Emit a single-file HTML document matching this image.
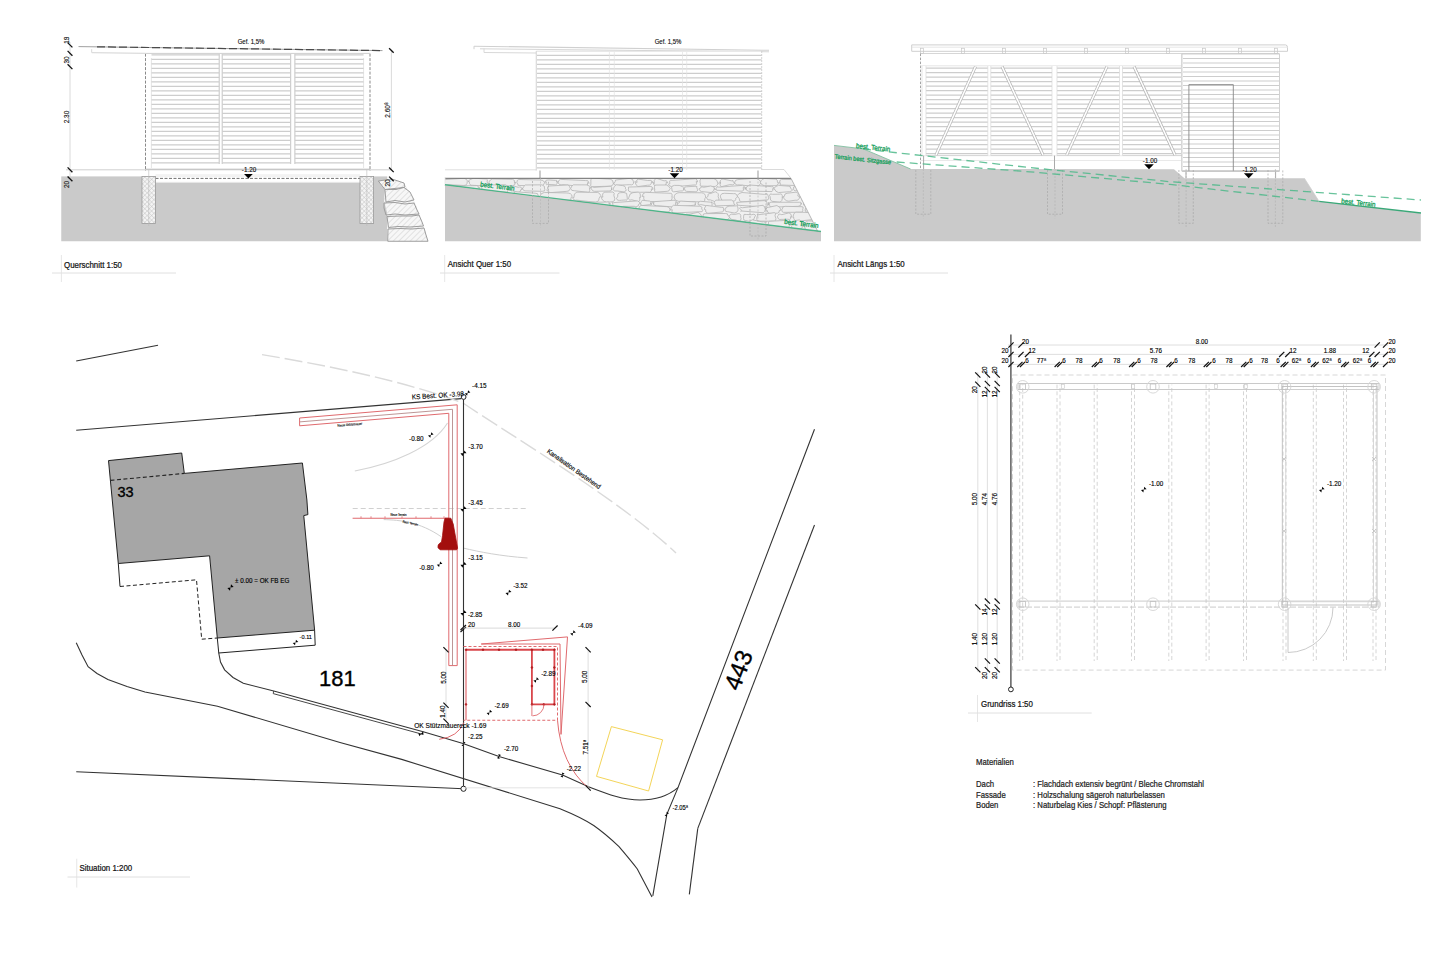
<!DOCTYPE html>
<html><head><meta charset="utf-8"><title>Plan</title>
<style>
html,body{margin:0;padding:0;background:#fff;}
body{width:1440px;height:960px;overflow:hidden;font-family:"Liberation Sans",sans-serif;}
svg{display:block;}
text{font-family:"Liberation Sans",sans-serif;}
</style></head><body>
<svg width="1440" height="960" viewBox="0 0 1440 960">
<defs>
<pattern id="hatch" patternUnits="userSpaceOnUse" width="4" height="4" patternTransform="rotate(45)"><line x1="0" y1="0" x2="0" y2="4" stroke="#d2d2d2" stroke-width="1.2"/></pattern>
<pattern id="xhatch" patternUnits="userSpaceOnUse" width="3.2" height="3.2" patternTransform="rotate(45)"><rect width="3.2" height="3.2" fill="#f4f4f4"/><line x1="0" y1="0" x2="0" y2="3.2" stroke="#c4c4c4" stroke-width="0.9"/><line x1="0" y1="0" x2="3.2" y2="0" stroke="#c4c4c4" stroke-width="0.9"/></pattern>
</defs>
<rect width="1440" height="960" fill="#fff"/>
<rect x="61.25" y="176.4" width="326" height="64.85" fill="#cacaca" stroke="none" stroke-width="1"/>
<rect x="155.5" y="176.4" width="204.5" height="6.6" fill="#fff" stroke="none" stroke-width="1"/>
<line x1="142" y1="178.4" x2="373.6" y2="178.4" stroke="#707070" stroke-width="1" stroke-dasharray="3 1.5"/>
<line x1="155.5" y1="175" x2="360" y2="175" stroke="#e2e2e2" stroke-width="0.8"/>
<line x1="155.5" y1="182.4" x2="360" y2="182.4" stroke="#bbb" stroke-width="0.8" stroke-dasharray="1 1"/>
<rect x="142" y="176.4" width="13.5" height="47" fill="url(#xhatch)" stroke="#9a9a9a" stroke-width="0.8"/>
<line x1="148.75" y1="169.8" x2="148.75" y2="226" stroke="#bbb" stroke-width="0.6"/>
<rect x="360" y="176.4" width="13.6" height="47" fill="url(#xhatch)" stroke="#9a9a9a" stroke-width="0.8"/>
<line x1="366.8" y1="169.8" x2="366.8" y2="226" stroke="#bbb" stroke-width="0.6"/>
<polygon points="378.3,181 392,179 404,183 414,200 419,213 423.8,225.7 428,241.25 387.7,241.25 388,216 384,201 384.9,189.5" stroke="none" stroke-width="0" fill="#f7f7f7"/>
<polygon points="378.3,181 392,179 404,183 414,200 419,213 423.8,225.7 428,241.25 387.7,241.25 388,216 384,201 384.9,189.5" stroke="none" stroke-width="0" fill="url(#hatch)"/>
<polyline points="378.3,181 392,179 404,183 405,187 396,189.5 385,189.5 378.3,181" stroke="#9d9d9d" stroke-width="1.0" fill="none"/>
<polyline points="384.9,189.5 404,187.5 410,192 414,200 405,202 395,200.5 386,202 384.9,189.5" stroke="#9d9d9d" stroke-width="1.0" fill="none"/>
<polyline points="384,203 395,202.5 405,204 414,203 417,210 419,214 405,215 395,214 386,215 384,208 384,203" stroke="#9d9d9d" stroke-width="1.0" fill="none"/>
<polyline points="387,216.5 400,216 412,216 419,215 422,222 423.5,226 410,227 398,226.5 388.5,227.5 387,216.5" stroke="#9d9d9d" stroke-width="1.0" fill="none"/>
<polyline points="388,229 400,228.5 412,229 424,228 426,235 428,241.25 387.7,241.25 388,229" stroke="#9d9d9d" stroke-width="1.0" fill="none"/>
<line x1="66" y1="169.8" x2="391" y2="169.8" stroke="#c4c4c4" stroke-width="0.8"/>
<line x1="145.5" y1="53.6" x2="145.5" y2="171" stroke="#8a8a8a" stroke-width="1" stroke-dasharray="3 1.5"/>
<line x1="370" y1="53.6" x2="370" y2="171" stroke="#8a8a8a" stroke-width="1" stroke-dasharray="3 1.5"/>
<line x1="151.4" y1="58" x2="151.4" y2="168" stroke="#ddd" stroke-width="0.8"/>
<line x1="363.6" y1="58" x2="363.6" y2="168" stroke="#ddd" stroke-width="0.8"/>
<line x1="145.5" y1="53.4" x2="370" y2="53.4" stroke="#cfcfcf" stroke-width="1"/>
<line x1="145.5" y1="169.2" x2="370" y2="169.2" stroke="#bdbdbd" stroke-width="1"/>
<line x1="219.2" y1="54" x2="219.2" y2="164" stroke="#bdbdbd" stroke-width="0.9"/>
<line x1="222.2" y1="54" x2="222.2" y2="164" stroke="#bdbdbd" stroke-width="0.9"/>
<line x1="290.7" y1="54" x2="290.7" y2="164" stroke="#bdbdbd" stroke-width="0.9"/>
<line x1="294.9" y1="54" x2="294.9" y2="164" stroke="#bdbdbd" stroke-width="0.9"/>
<line x1="151.5" y1="54.8" x2="219.2" y2="54.8" stroke="#cdcdcd" stroke-width="1.2"/>
<line x1="222.2" y1="54.8" x2="290.7" y2="54.8" stroke="#cdcdcd" stroke-width="1.2"/>
<line x1="294.9" y1="54.8" x2="363.6" y2="54.8" stroke="#cdcdcd" stroke-width="1.2"/>
<line x1="151.5" y1="59.3" x2="219.2" y2="59.3" stroke="#cdcdcd" stroke-width="1.2"/>
<line x1="222.2" y1="59.3" x2="290.7" y2="59.3" stroke="#cdcdcd" stroke-width="1.2"/>
<line x1="294.9" y1="59.3" x2="363.6" y2="59.3" stroke="#cdcdcd" stroke-width="1.2"/>
<line x1="151.5" y1="63.8" x2="219.2" y2="63.8" stroke="#cdcdcd" stroke-width="1.2"/>
<line x1="222.2" y1="63.8" x2="290.7" y2="63.8" stroke="#cdcdcd" stroke-width="1.2"/>
<line x1="294.9" y1="63.8" x2="363.6" y2="63.8" stroke="#cdcdcd" stroke-width="1.2"/>
<line x1="151.5" y1="68.3" x2="219.2" y2="68.3" stroke="#cdcdcd" stroke-width="1.2"/>
<line x1="222.2" y1="68.3" x2="290.7" y2="68.3" stroke="#cdcdcd" stroke-width="1.2"/>
<line x1="294.9" y1="68.3" x2="363.6" y2="68.3" stroke="#cdcdcd" stroke-width="1.2"/>
<line x1="151.5" y1="72.8" x2="219.2" y2="72.8" stroke="#cdcdcd" stroke-width="1.2"/>
<line x1="222.2" y1="72.8" x2="290.7" y2="72.8" stroke="#cdcdcd" stroke-width="1.2"/>
<line x1="294.9" y1="72.8" x2="363.6" y2="72.8" stroke="#cdcdcd" stroke-width="1.2"/>
<line x1="151.5" y1="77.3" x2="219.2" y2="77.3" stroke="#cdcdcd" stroke-width="1.2"/>
<line x1="222.2" y1="77.3" x2="290.7" y2="77.3" stroke="#cdcdcd" stroke-width="1.2"/>
<line x1="294.9" y1="77.3" x2="363.6" y2="77.3" stroke="#cdcdcd" stroke-width="1.2"/>
<line x1="151.5" y1="81.8" x2="219.2" y2="81.8" stroke="#cdcdcd" stroke-width="1.2"/>
<line x1="222.2" y1="81.8" x2="290.7" y2="81.8" stroke="#cdcdcd" stroke-width="1.2"/>
<line x1="294.9" y1="81.8" x2="363.6" y2="81.8" stroke="#cdcdcd" stroke-width="1.2"/>
<line x1="151.5" y1="86.3" x2="219.2" y2="86.3" stroke="#cdcdcd" stroke-width="1.2"/>
<line x1="222.2" y1="86.3" x2="290.7" y2="86.3" stroke="#cdcdcd" stroke-width="1.2"/>
<line x1="294.9" y1="86.3" x2="363.6" y2="86.3" stroke="#cdcdcd" stroke-width="1.2"/>
<line x1="151.5" y1="90.8" x2="219.2" y2="90.8" stroke="#cdcdcd" stroke-width="1.2"/>
<line x1="222.2" y1="90.8" x2="290.7" y2="90.8" stroke="#cdcdcd" stroke-width="1.2"/>
<line x1="294.9" y1="90.8" x2="363.6" y2="90.8" stroke="#cdcdcd" stroke-width="1.2"/>
<line x1="151.5" y1="95.3" x2="219.2" y2="95.3" stroke="#cdcdcd" stroke-width="1.2"/>
<line x1="222.2" y1="95.3" x2="290.7" y2="95.3" stroke="#cdcdcd" stroke-width="1.2"/>
<line x1="294.9" y1="95.3" x2="363.6" y2="95.3" stroke="#cdcdcd" stroke-width="1.2"/>
<line x1="151.5" y1="99.8" x2="219.2" y2="99.8" stroke="#cdcdcd" stroke-width="1.2"/>
<line x1="222.2" y1="99.8" x2="290.7" y2="99.8" stroke="#cdcdcd" stroke-width="1.2"/>
<line x1="294.9" y1="99.8" x2="363.6" y2="99.8" stroke="#cdcdcd" stroke-width="1.2"/>
<line x1="151.5" y1="104.3" x2="219.2" y2="104.3" stroke="#cdcdcd" stroke-width="1.2"/>
<line x1="222.2" y1="104.3" x2="290.7" y2="104.3" stroke="#cdcdcd" stroke-width="1.2"/>
<line x1="294.9" y1="104.3" x2="363.6" y2="104.3" stroke="#cdcdcd" stroke-width="1.2"/>
<line x1="151.5" y1="108.8" x2="219.2" y2="108.8" stroke="#cdcdcd" stroke-width="1.2"/>
<line x1="222.2" y1="108.8" x2="290.7" y2="108.8" stroke="#cdcdcd" stroke-width="1.2"/>
<line x1="294.9" y1="108.8" x2="363.6" y2="108.8" stroke="#cdcdcd" stroke-width="1.2"/>
<line x1="151.5" y1="113.3" x2="219.2" y2="113.3" stroke="#cdcdcd" stroke-width="1.2"/>
<line x1="222.2" y1="113.3" x2="290.7" y2="113.3" stroke="#cdcdcd" stroke-width="1.2"/>
<line x1="294.9" y1="113.3" x2="363.6" y2="113.3" stroke="#cdcdcd" stroke-width="1.2"/>
<line x1="151.5" y1="117.8" x2="219.2" y2="117.8" stroke="#cdcdcd" stroke-width="1.2"/>
<line x1="222.2" y1="117.8" x2="290.7" y2="117.8" stroke="#cdcdcd" stroke-width="1.2"/>
<line x1="294.9" y1="117.8" x2="363.6" y2="117.8" stroke="#cdcdcd" stroke-width="1.2"/>
<line x1="151.5" y1="122.3" x2="219.2" y2="122.3" stroke="#cdcdcd" stroke-width="1.2"/>
<line x1="222.2" y1="122.3" x2="290.7" y2="122.3" stroke="#cdcdcd" stroke-width="1.2"/>
<line x1="294.9" y1="122.3" x2="363.6" y2="122.3" stroke="#cdcdcd" stroke-width="1.2"/>
<line x1="151.5" y1="126.8" x2="219.2" y2="126.8" stroke="#cdcdcd" stroke-width="1.2"/>
<line x1="222.2" y1="126.8" x2="290.7" y2="126.8" stroke="#cdcdcd" stroke-width="1.2"/>
<line x1="294.9" y1="126.8" x2="363.6" y2="126.8" stroke="#cdcdcd" stroke-width="1.2"/>
<line x1="151.5" y1="131.3" x2="219.2" y2="131.3" stroke="#cdcdcd" stroke-width="1.2"/>
<line x1="222.2" y1="131.3" x2="290.7" y2="131.3" stroke="#cdcdcd" stroke-width="1.2"/>
<line x1="294.9" y1="131.3" x2="363.6" y2="131.3" stroke="#cdcdcd" stroke-width="1.2"/>
<line x1="151.5" y1="135.8" x2="219.2" y2="135.8" stroke="#cdcdcd" stroke-width="1.2"/>
<line x1="222.2" y1="135.8" x2="290.7" y2="135.8" stroke="#cdcdcd" stroke-width="1.2"/>
<line x1="294.9" y1="135.8" x2="363.6" y2="135.8" stroke="#cdcdcd" stroke-width="1.2"/>
<line x1="151.5" y1="140.3" x2="219.2" y2="140.3" stroke="#cdcdcd" stroke-width="1.2"/>
<line x1="222.2" y1="140.3" x2="290.7" y2="140.3" stroke="#cdcdcd" stroke-width="1.2"/>
<line x1="294.9" y1="140.3" x2="363.6" y2="140.3" stroke="#cdcdcd" stroke-width="1.2"/>
<line x1="151.5" y1="144.8" x2="219.2" y2="144.8" stroke="#cdcdcd" stroke-width="1.2"/>
<line x1="222.2" y1="144.8" x2="290.7" y2="144.8" stroke="#cdcdcd" stroke-width="1.2"/>
<line x1="294.9" y1="144.8" x2="363.6" y2="144.8" stroke="#cdcdcd" stroke-width="1.2"/>
<line x1="151.5" y1="149.3" x2="219.2" y2="149.3" stroke="#cdcdcd" stroke-width="1.2"/>
<line x1="222.2" y1="149.3" x2="290.7" y2="149.3" stroke="#cdcdcd" stroke-width="1.2"/>
<line x1="294.9" y1="149.3" x2="363.6" y2="149.3" stroke="#cdcdcd" stroke-width="1.2"/>
<line x1="151.5" y1="153.8" x2="219.2" y2="153.8" stroke="#cdcdcd" stroke-width="1.2"/>
<line x1="222.2" y1="153.8" x2="290.7" y2="153.8" stroke="#cdcdcd" stroke-width="1.2"/>
<line x1="294.9" y1="153.8" x2="363.6" y2="153.8" stroke="#cdcdcd" stroke-width="1.2"/>
<line x1="151.5" y1="158.3" x2="219.2" y2="158.3" stroke="#cdcdcd" stroke-width="1.2"/>
<line x1="222.2" y1="158.3" x2="290.7" y2="158.3" stroke="#cdcdcd" stroke-width="1.2"/>
<line x1="294.9" y1="158.3" x2="363.6" y2="158.3" stroke="#cdcdcd" stroke-width="1.2"/>
<line x1="151.5" y1="162.8" x2="219.2" y2="162.8" stroke="#cdcdcd" stroke-width="1.2"/>
<line x1="222.2" y1="162.8" x2="290.7" y2="162.8" stroke="#cdcdcd" stroke-width="1.2"/>
<line x1="294.9" y1="162.8" x2="363.6" y2="162.8" stroke="#cdcdcd" stroke-width="1.2"/>
<line x1="91.7" y1="49.2" x2="91.7" y2="52.6" stroke="#d8d8d8" stroke-width="1"/>
<line x1="91.7" y1="52.6" x2="145.5" y2="53.4" stroke="#dcdcdc" stroke-width="1.2"/>
<line x1="78.5" y1="46.6" x2="382.5" y2="50.6" stroke="#a0a0a0" stroke-width="1.0"/>
<line x1="97" y1="46.82" x2="382.5" y2="50.6" stroke="#4a4a4a" stroke-width="1.2" stroke-dasharray="8 3"/>
<text x="251" y="43.8" font-size="6.6" fill="#111" text-anchor="middle" textLength="26.68" lengthAdjust="spacingAndGlyphs" stroke="#111" stroke-width="0.14">Gef. 1,5%</text>
<line x1="70" y1="42" x2="70" y2="180" stroke="#d0d0d0" stroke-width="0.8"/>
<line x1="67.6" y1="42.6" x2="72.4" y2="47.4" stroke="#111" stroke-width="1.3"/>
<line x1="67.6" y1="50.9" x2="72.4" y2="55.7" stroke="#111" stroke-width="1.3"/>
<line x1="67.6" y1="64.3" x2="72.4" y2="69.1" stroke="#111" stroke-width="1.3"/>
<line x1="67.6" y1="167.4" x2="72.4" y2="172.2" stroke="#111" stroke-width="1.3"/>
<line x1="67.6" y1="176.5" x2="72.4" y2="181.3" stroke="#111" stroke-width="1.3"/>
<text x="67" y="40.2" font-size="7.15" fill="#111" text-anchor="middle" transform="rotate(-90 67 40.2)" textLength="7.23" lengthAdjust="spacingAndGlyphs" stroke="#111" stroke-width="0.14" dominant-baseline="central">19</text>
<text x="67" y="60" font-size="7.15" fill="#111" text-anchor="middle" transform="rotate(-90 67 60)" textLength="7.23" lengthAdjust="spacingAndGlyphs" stroke="#111" stroke-width="0.14" dominant-baseline="central">30</text>
<text x="67" y="117" font-size="7.15" fill="#111" text-anchor="middle" transform="rotate(-90 67 117)" textLength="12.65" lengthAdjust="spacingAndGlyphs" stroke="#111" stroke-width="0.14" dominant-baseline="central">2.30</text>
<text x="67" y="184.5" font-size="7.15" fill="#111" text-anchor="middle" transform="rotate(-90 67 184.5)" textLength="7.23" lengthAdjust="spacingAndGlyphs" stroke="#111" stroke-width="0.14" dominant-baseline="central">20</text>
<line x1="391.4" y1="50.5" x2="391.4" y2="170" stroke="#d0d0d0" stroke-width="0.8"/>
<line x1="389.1" y1="48.2" x2="393.7" y2="52.8" stroke="#111" stroke-width="1.3"/>
<line x1="389.1" y1="167.5" x2="393.7" y2="172.1" stroke="#111" stroke-width="1.3"/>
<line x1="389.1" y1="176.6" x2="393.7" y2="181.2" stroke="#111" stroke-width="1.3"/>
<text x="387.5" y="110" font-size="7.15" fill="#111" text-anchor="middle" transform="rotate(-90 387.5 110)" textLength="15.39" lengthAdjust="spacingAndGlyphs" stroke="#111" stroke-width="0.14" dominant-baseline="central">2.60⁸</text>
<text x="387.5" y="183" font-size="7.15" fill="#111" text-anchor="middle" transform="rotate(-90 387.5 183)" textLength="7.23" lengthAdjust="spacingAndGlyphs" stroke="#111" stroke-width="0.14" dominant-baseline="central">20</text>
<polygon points="244.08,173.9 252.72,173.9 248.4,178.4" fill="#000"/>
<text x="249" y="172" font-size="6.93" fill="#111" text-anchor="middle" textLength="14.36" lengthAdjust="spacingAndGlyphs" stroke="#111" stroke-width="0.14">-1.20</text>
<text x="64" y="267.5" font-size="9.48" fill="#111" text-anchor="start" textLength="57.96" lengthAdjust="spacingAndGlyphs" stroke="#111" stroke-width="0.24">Querschnitt 1:50</text>
<line x1="52" y1="273" x2="176" y2="273" stroke="#d8d8d8" stroke-width="0.8"/>
<line x1="61.4" y1="255" x2="61.4" y2="282" stroke="#e0e0e0" stroke-width="0.8"/>
<line x1="474" y1="46.2" x2="769" y2="50.3" stroke="#d0d0d0" stroke-width="1.1"/>
<line x1="480" y1="48.8" x2="769" y2="51.8" stroke="#d6d6d6" stroke-width="1.0"/>
<line x1="474" y1="46.2" x2="474" y2="49.2" stroke="#d0d0d0" stroke-width="1"/>
<path d="M484,48.6 L484,52.5 L536,53" stroke="#d8d8d8" stroke-width="1" fill="none"/>
<rect x="536.25" y="51" width="225.45" height="119.6" fill="#fff" stroke="none" stroke-width="1"/>
<line x1="536.25" y1="51" x2="536.25" y2="170.6" stroke="#c8c8c8" stroke-width="0.8"/>
<line x1="536.25" y1="51.2" x2="761.7" y2="51.2" stroke="#d8d8d8" stroke-width="0.8"/>
<line x1="537" y1="55.3" x2="761.7" y2="55.3" stroke="#cdcdcd" stroke-width="1.2"/>
<line x1="537" y1="59.8" x2="761.7" y2="59.8" stroke="#cdcdcd" stroke-width="1.2"/>
<line x1="537" y1="64.3" x2="761.7" y2="64.3" stroke="#cdcdcd" stroke-width="1.2"/>
<line x1="537" y1="68.8" x2="761.7" y2="68.8" stroke="#cdcdcd" stroke-width="1.2"/>
<line x1="537" y1="73.3" x2="761.7" y2="73.3" stroke="#cdcdcd" stroke-width="1.2"/>
<line x1="537" y1="77.8" x2="761.7" y2="77.8" stroke="#cdcdcd" stroke-width="1.2"/>
<line x1="537" y1="82.3" x2="761.7" y2="82.3" stroke="#cdcdcd" stroke-width="1.2"/>
<line x1="537" y1="86.8" x2="761.7" y2="86.8" stroke="#cdcdcd" stroke-width="1.2"/>
<line x1="537" y1="91.3" x2="761.7" y2="91.3" stroke="#cdcdcd" stroke-width="1.2"/>
<line x1="537" y1="95.8" x2="761.7" y2="95.8" stroke="#cdcdcd" stroke-width="1.2"/>
<line x1="537" y1="100.3" x2="761.7" y2="100.3" stroke="#cdcdcd" stroke-width="1.2"/>
<line x1="537" y1="104.8" x2="761.7" y2="104.8" stroke="#cdcdcd" stroke-width="1.2"/>
<line x1="537" y1="109.3" x2="761.7" y2="109.3" stroke="#cdcdcd" stroke-width="1.2"/>
<line x1="537" y1="113.8" x2="761.7" y2="113.8" stroke="#cdcdcd" stroke-width="1.2"/>
<line x1="537" y1="118.3" x2="761.7" y2="118.3" stroke="#cdcdcd" stroke-width="1.2"/>
<line x1="537" y1="122.8" x2="761.7" y2="122.8" stroke="#cdcdcd" stroke-width="1.2"/>
<line x1="537" y1="127.3" x2="761.7" y2="127.3" stroke="#cdcdcd" stroke-width="1.2"/>
<line x1="537" y1="131.8" x2="761.7" y2="131.8" stroke="#cdcdcd" stroke-width="1.2"/>
<line x1="537" y1="136.3" x2="761.7" y2="136.3" stroke="#cdcdcd" stroke-width="1.2"/>
<line x1="537" y1="140.8" x2="761.7" y2="140.8" stroke="#cdcdcd" stroke-width="1.2"/>
<line x1="537" y1="145.3" x2="761.7" y2="145.3" stroke="#cdcdcd" stroke-width="1.2"/>
<line x1="537" y1="149.8" x2="761.7" y2="149.8" stroke="#cdcdcd" stroke-width="1.2"/>
<line x1="537" y1="154.3" x2="761.7" y2="154.3" stroke="#cdcdcd" stroke-width="1.2"/>
<line x1="537" y1="158.8" x2="761.7" y2="158.8" stroke="#cdcdcd" stroke-width="1.2"/>
<line x1="537" y1="163.3" x2="761.7" y2="163.3" stroke="#cdcdcd" stroke-width="1.2"/>
<line x1="537" y1="167.8" x2="761.7" y2="167.8" stroke="#cdcdcd" stroke-width="1.2"/>
<line x1="609.4" y1="52" x2="609.4" y2="170" stroke="#e2e2e2" stroke-width="0.7"/>
<line x1="614.3" y1="52" x2="614.3" y2="170" stroke="#e2e2e2" stroke-width="0.7"/>
<line x1="682.5" y1="52" x2="682.5" y2="170" stroke="#e2e2e2" stroke-width="0.7"/>
<line x1="686.7" y1="52" x2="686.7" y2="170" stroke="#e2e2e2" stroke-width="0.7"/>
<line x1="761.7" y1="51" x2="761.7" y2="171" stroke="#c8c8c8" stroke-width="0.8" stroke-dasharray="2 1"/>
<line x1="445" y1="169.8" x2="536" y2="169.8" stroke="#d6d6d6" stroke-width="0.8"/>
<line x1="540" y1="170.6" x2="540" y2="178.3" stroke="#aaa" stroke-width="1.2"/>
<line x1="758" y1="170.6" x2="758" y2="178.3" stroke="#aaa" stroke-width="1.2"/>
<polygon points="445,185.5 821,232.2 821,241.2 445,241.2" stroke="none" stroke-width="0" fill="#cacaca"/>
<clipPath id="wallclip"><polygon points="445,178.3 791,178.3 818,231.9 445,185.5"/></clipPath>
<polygon points="445,178.3 791,178.3 818,231.9 445,185.5" stroke="none" stroke-width="0" fill="#f1f1f1"/>
<g clip-path="url(#wallclip)" stroke="#b4b4b4" stroke-width="0.8" fill="#eeeeee" stroke-linejoin="round">
<path d="M444.47,179.6 L464.24,178.26 Q467.4,179.5 467.42,180.99 L467.22,181.67 Q467.4,185.66 463.47,185.45 L446.58,184.6 Q442.88,185.66 442.11,183.23 L444.14,182.5 Q442.88,179.5 444.47,179.6 Z"/>
<path d="M473.32,178.23 L486.35,178.91 Q488.13,179.5 487.13,181.21 L487.59,183.76 Q488.13,185.66 484.45,185.89 L472.38,185.3 Q469.2,185.66 469.34,181.65 L467.97,181.46 Q469.2,179.5 473.32,178.23 Z"/>
<path d="M492.51,178.98 L512.55,179.37 Q515.1,179.5 514.54,183.11 L515.66,182.16 Q515.1,185.66 512.52,185.73 L493.77,186.3 Q489.93,185.66 489.34,184.22 L488.86,182.06 Q489.93,179.5 492.51,178.98 Z"/>
<path d="M518.71,179.47 L539.68,179.97 Q543.76,179.5 544.5,182.49 L544.81,182.35 Q543.76,185.66 541.52,185.92 L519.91,185.53 Q516.9,185.66 517.85,184.12 L516.83,182.74 Q516.9,179.5 518.71,179.47 Z"/>
<path d="M548.91,179.91 L555.69,180.4 Q557.09,179.5 556.49,181.97 L557.56,181.54 Q557.09,185.66 554.2,184.73 L547.27,184.42 Q545.56,185.66 546.31,181.83 L544.85,181.98 Q545.56,179.5 548.91,179.91 Z"/>
<path d="M560.5,179.36 L585.62,180.57 Q588.26,179.5 589.16,183.3 L587.64,182.64 Q588.26,185.66 585.08,186.73 L562.96,184.68 Q558.89,185.66 557.98,182.12 L558.14,182.24 Q558.89,179.5 560.5,179.36 Z"/>
<path d="M592.18,178.11 L610.21,179.13 Q613.22,179.5 613.41,183.55 L613.76,182.92 Q613.22,185.66 610.77,186.15 L591.6,186.78 Q590.06,185.66 590.85,183.92 L590.9,181.98 Q590.06,179.5 592.18,178.11 Z"/>
<path d="M616.7,179.88 L629.99,178.29 Q634,179.5 633.19,181.34 L633.55,181.62 Q634,185.66 629.82,184.68 L616.69,185.28 Q615.02,185.66 613.69,183.92 L615.34,181.3 Q615.02,179.5 616.7,179.88 Z"/>
<path d="M638.16,179.12 L647.71,180.48 Q651.55,179.5 652.93,182.19 L651.51,181.71 Q651.55,185.66 647.65,185.22 L637.93,186.58 Q635.8,185.66 634.85,181.54 L637.06,182.36 Q635.8,179.5 638.16,179.12 Z"/>
<path d="M656.26,178.18 L664.07,180.84 Q666.78,179.5 667.79,182.83 L666.11,182.5 Q666.78,185.66 663.06,186.42 L656.23,186.44 Q653.35,185.66 652.87,182.1 L654.22,183.64 Q653.35,179.5 656.26,178.18 Z"/>
<path d="M672.22,180.39 L695.42,178.73 Q697.53,179.5 697.58,181.88 L696.21,181.55 Q697.53,185.66 694.13,184.98 L671.9,186.94 Q668.58,185.66 668.43,184.1 L669.94,183.56 Q668.58,179.5 672.22,180.39 Z"/>
<path d="M701.34,178.74 L713.92,178.67 Q717.56,179.5 717.9,183.41 L718.51,182.81 Q717.56,185.66 715.2,186.5 L700.96,186.11 Q699.33,185.66 700.48,183.66 L700.03,182.22 Q699.33,179.5 701.34,178.74 Z"/>
<path d="M722.95,179.03 L731.54,180.82 Q733.48,179.5 733.19,182.01 L734.73,183.5 Q733.48,185.66 729.77,184.61 L721.16,186.79 Q719.36,185.66 720.21,181.88 L720.27,183.63 Q719.36,179.5 722.95,179.03 Z"/>
<path d="M737.65,179.64 L756.12,178.14 Q759.94,179.5 761.26,182.7 L760.02,184.09 Q759.94,185.66 756.97,186.7 L738.98,184.85 Q735.28,185.66 734.59,182.29 L734.56,182.53 Q735.28,179.5 737.65,179.64 Z"/>
<path d="M764.3,178.47 L776.01,179.09 Q777.65,179.5 777.53,182.52 L778.78,182.65 Q777.65,185.66 776.03,185.66 L764.62,185.72 Q761.74,185.66 760.4,182.7 L760.86,180.9 Q761.74,179.5 764.3,178.47 Z"/>
<path d="M781.32,179.43 L805.08,179.66 Q807.23,179.5 806.74,182.34 L807.39,183.67 Q807.23,185.66 803.34,185.83 L781.53,185.03 Q779.45,185.66 780.21,182.89 L779.62,183.01 Q779.45,179.5 781.32,179.43 Z"/>
<path d="M811.66,179.82 L836.54,179.53 Q839.31,179.5 839.84,182.15 L839.4,182.81 Q839.31,185.66 837.76,186.22 L812.87,186.9 Q809.03,185.66 808.36,183.04 L810.27,183.24 Q809.03,179.5 811.66,179.82 Z"/>
<path d="M438.8,184.89 L446.86,186.88 Q448.85,186.08 449.97,187.58 L449.46,189.31 Q448.85,191.33 445.39,192.4 L440.83,190.55 Q437.06,191.33 438.32,188.58 L437.02,189.92 Q437.06,186.08 438.8,184.89 Z"/>
<path d="M452.17,185.89 L476.74,185.63 Q479.17,186.08 478.32,188.04 L479.79,187.52 Q479.17,191.33 476.85,191.16 L451.77,190.86 Q450.65,191.33 451,188.9 L449.43,189.91 Q450.65,186.08 452.17,185.89 Z"/>
<path d="M484.75,184.98 L505.39,184.79 Q508.51,186.08 509.29,187.91 L507.47,188.65 Q508.51,191.33 507.2,192.22 L482.76,190.35 Q480.97,191.33 482.14,189.06 L481.53,187.4 Q480.97,186.08 484.75,184.98 Z"/>
<path d="M513.3,185.87 L518.11,187.31 Q521.78,186.08 522.15,189.4 L520.61,189.86 Q521.78,191.33 518.1,192.35 L512.65,190.88 Q510.31,191.33 510.46,190.06 L509.66,187.51 Q510.31,186.08 513.3,185.87 Z"/>
<path d="M525.31,184.99 L541.95,184.83 Q545.37,186.08 544.53,188.02 L544.82,189.59 Q545.37,191.33 542.31,191.33 L525.14,190.9 Q523.58,191.33 522.23,188.17 L522.22,189.2 Q523.58,186.08 525.31,184.99 Z"/>
<path d="M548.77,186.01 L568.24,184.98 Q569.49,186.08 570.39,188.36 L569.48,189.8 Q569.49,191.33 566.73,191.35 L550.16,192.68 Q547.17,191.33 546.73,189.8 L547.75,188.93 Q547.17,186.08 548.77,186.01 Z"/>
<path d="M573.33,184.84 L586.89,184.88 Q590.4,186.08 591.07,187.87 L589.45,187.7 Q590.4,191.33 588.88,192.37 L574.24,190.72 Q571.29,191.33 570.57,188.29 L571.18,187.59 Q571.29,186.08 573.33,184.84 Z"/>
<path d="M594,187.38 L611.06,186.22 Q612.2,186.08 611.49,189.85 L611.67,188.46 Q612.2,191.33 608.34,191 L594.59,191.34 Q592.2,191.33 591.36,188.88 L590.81,187.89 Q592.2,186.08 594,187.38 Z"/>
<path d="M616.19,184.8 L622.37,185.54 Q626.18,186.08 625.43,188.79 L626.26,189.57 Q626.18,191.33 624.15,191.94 L617.53,191.02 Q614,191.33 613.52,190.22 L613.02,189.18 Q614,186.08 616.19,184.8 Z"/>
<path d="M629.17,187.02 L650.96,186.44 Q652.33,186.08 652.98,189.42 L651.32,188.93 Q652.33,191.33 649.87,192.27 L631.3,192.25 Q627.98,191.33 628.21,189.96 L628.49,189.09 Q627.98,186.08 629.17,187.02 Z"/>
<path d="M655.28,185.06 L666.53,184.98 Q669.39,186.08 670.33,188.71 L669.75,189.22 Q669.39,191.33 667.43,191.3 L655.2,192.16 Q654.13,191.33 654.82,188.87 L654.23,189 Q654.13,186.08 655.28,185.06 Z"/>
<path d="M674.32,185.39 L679.18,185.43 Q682.84,186.08 683.48,187.73 L683.51,190.2 Q682.84,191.33 680.36,191 L673.6,191.85 Q671.19,191.33 671.94,189.19 L671.59,187.37 Q671.19,186.08 674.32,185.39 Z"/>
<path d="M686.42,186.77 L695.07,186.27 Q698.08,186.08 696.72,187.32 L697.44,189.35 Q698.08,191.33 696.16,191.82 L686.52,191.38 Q684.64,191.33 684.54,188.77 L683.57,189.65 Q684.64,186.08 686.42,186.77 Z"/>
<path d="M703.69,187.31 L710.65,185.97 Q714.47,186.08 715.36,189.86 L714.33,188.22 Q714.47,191.33 711.19,192.58 L701.54,191.56 Q699.88,191.33 698.88,188.93 L701.15,187.52 Q699.88,186.08 703.69,187.31 Z"/>
<path d="M718.76,187.17 L742.62,185.33 Q744.51,186.08 745.63,188.51 L743.18,187.47 Q744.51,191.33 742.02,191.19 L718.18,190.33 Q716.27,191.33 715.83,188.35 L717.22,187.16 Q716.27,186.08 718.76,187.17 Z"/>
<path d="M749.73,185.02 L771.76,186.68 Q773.03,186.08 774.15,187.96 L772.67,188.56 Q773.03,191.33 771.96,191.58 L748.39,191.13 Q746.31,191.33 745.68,187.6 L745.2,189.49 Q746.31,186.08 749.73,185.02 Z"/>
<path d="M778.51,185.38 L788.19,186.11 Q791.31,186.08 790.44,188.2 L792.59,189.94 Q791.31,191.33 789.72,191.7 L778.45,192.57 Q774.83,191.33 774.97,189.48 L773.57,189.2 Q774.83,186.08 778.51,185.38 Z"/>
<path d="M796.29,186.49 L810.17,184.82 Q813.23,186.08 814.43,187.51 L813.15,188.43 Q813.23,191.33 810.2,192 L796.91,190.66 Q793.11,191.33 793.55,188.31 L793.27,188.25 Q793.11,186.08 796.29,186.49 Z"/>
<path d="M816.55,185.27 L827.58,186.08 Q828.91,186.08 828.13,189.69 L830.3,188.72 Q828.91,191.33 825.44,190.47 L816.35,190.89 Q815.03,191.33 813.89,188.13 L814.35,188.75 Q815.03,186.08 816.55,185.27 Z"/>
<path d="M441.17,192.63 L453.04,191.75 Q456.95,192.97 456.33,197.74 L455.9,197.6 Q456.95,201.05 453.86,202.06 L440.3,200.4 Q437.64,201.05 436.94,197.31 L437.49,197.7 Q437.64,192.97 441.17,192.63 Z"/>
<path d="M463.25,191.63 L482.86,193.56 Q487.62,192.97 488.73,196.35 L487.86,196.19 Q487.62,201.05 483.86,202.24 L463.12,202.04 Q458.75,201.05 460.07,196.89 L457.66,195.46 Q458.75,192.97 463.25,191.63 Z"/>
<path d="M493.39,194.21 L508.28,193.38 Q511.11,192.97 511.85,196.31 L511.26,196.3 Q511.11,201.05 508.45,200.3 L494.05,201.45 Q489.42,201.05 488.87,196.55 L488.73,196.81 Q489.42,192.97 493.39,194.21 Z"/>
<path d="M515.28,191.77 L535.09,193.2 Q538.48,192.97 538.17,195.65 L538.76,196.22 Q538.48,201.05 534.47,200.94 L517.65,201.45 Q512.91,201.05 513.99,197.52 L512.17,195.72 Q512.91,192.97 515.28,191.77 Z"/>
<path d="M544.31,192.43 L566.82,192.97 Q571.62,192.97 572.1,196.2 L570.94,198.06 Q571.62,201.05 569.35,200.28 L542.43,200.59 Q540.28,201.05 540.06,198.1 L539.44,197.26 Q540.28,192.97 544.31,192.43 Z"/>
<path d="M576.88,192.15 L597.74,192.45 Q599.88,192.97 600.77,195.67 L599.1,198.32 Q599.88,201.05 595.85,202.31 L576.86,200.17 Q573.42,201.05 572.64,197.36 L573.88,197.68 Q573.42,192.97 576.88,192.15 Z"/>
<path d="M604.83,192.17 L612.97,191.97 Q615.1,192.97 613.84,195.2 L614.8,198.71 Q615.1,201.05 612.71,201.7 L606.52,202.25 Q601.68,201.05 601.2,196.71 L602.9,197.12 Q601.68,192.97 604.83,192.17 Z"/>
<path d="M620.81,192.63 L623.99,192.5 Q627.8,192.97 626.87,195.04 L627.18,197.17 Q627.8,201.05 625.62,199.99 L621.65,200.23 Q616.9,201.05 616.5,198.49 L617.8,196.24 Q616.9,192.97 620.81,192.63 Z"/>
<path d="M632.98,192.62 L638.6,192.11 Q640.88,192.97 640.5,197.54 L639.57,197.34 Q640.88,201.05 638.3,201.79 L631.77,199.74 Q629.6,201.05 628.37,198.77 L628.92,197.12 Q629.6,192.97 632.98,192.62 Z"/>
<path d="M645.69,192.33 L670.48,193.3 Q672.65,192.97 671.98,197.03 L672.14,196.96 Q672.65,201.05 667.8,201.76 L647.3,201.42 Q642.68,201.05 643.92,196.26 L641.94,196.36 Q642.68,192.97 645.69,192.33 Z"/>
<path d="M679.18,192.65 L701.55,192.78 Q705.7,192.97 705.68,197.63 L704.81,198.44 Q705.7,201.05 702.91,201.95 L678.67,201.35 Q674.45,201.05 673.97,197.08 L674.06,197.22 Q674.45,192.97 679.18,192.65 Z"/>
<path d="M710.11,193.68 L715.27,191.75 Q719.44,192.97 718.13,196.58 L718.95,198.93 Q719.44,201.05 717.06,202.41 L710.3,199.88 Q707.5,201.05 706.37,197.59 L708.09,196.28 Q707.5,192.97 710.11,193.68 Z"/>
<path d="M724.46,193.31 L733.62,193.67 Q736.59,192.97 737.56,196.89 L735.53,198.54 Q736.59,201.05 732.56,201.23 L724.34,201.71 Q721.24,201.05 720.4,196.88 L720.52,195.46 Q721.24,192.97 724.46,193.31 Z"/>
<path d="M742.06,192.49 L764.29,194.35 Q768.04,192.97 768.06,195.68 L768.91,198.02 Q768.04,201.05 765.96,199.93 L741.77,201.94 Q738.39,201.05 739.34,198.75 L737.1,195.85 Q738.39,192.97 742.06,192.49 Z"/>
<path d="M772.43,194.3 L779.44,194.18 Q782.66,192.97 782.31,197.45 L782.52,196.92 Q782.66,201.05 779.99,202.29 L772.19,201.32 Q769.84,201.05 770.18,196.8 L769.47,195.42 Q769.84,192.97 772.43,194.3 Z"/>
<path d="M787.23,193.25 L796.12,192.14 Q799.15,192.97 797.78,195.94 L799.65,196.71 Q799.15,201.05 795.17,200.22 L788.75,201.18 Q784.46,201.05 783.24,196.47 L784.17,196.57 Q784.46,192.97 787.23,193.25 Z"/>
<path d="M803.26,192.03 L822.31,192.72 Q825.21,192.97 824.61,195.89 L826.48,197.06 Q825.21,201.05 821.94,200.65 L804.17,202.07 Q800.95,201.05 802.34,197.21 L800.1,197.07 Q800.95,192.97 803.26,192.03 Z"/>
<path d="M431.05,201.01 L446.18,201.16 Q447.39,201.27 446.45,202.2 L447.53,204.11 Q447.39,206 446.25,204.85 L430.49,205.64 Q427.87,206 427.88,202.72 L427.26,203.62 Q427.87,201.27 431.05,201.01 Z"/>
<path d="M450.38,201.25 L478.32,202.58 Q479.75,201.27 478.9,202.51 L480.99,205.05 Q479.75,206 477.42,204.75 L452.67,205.69 Q449.19,206 450.32,204.05 L450.1,202.61 Q449.19,201.27 450.38,201.25 Z"/>
<path d="M483.06,201.01 L507.72,202.2 Q509.04,201.27 508.15,202.77 L508.76,203.77 Q509.04,206 506.43,204.94 L483.13,206.63 Q481.55,206 482.66,202.43 L481.73,204.28 Q481.55,201.27 483.06,201.01 Z"/>
<path d="M514.07,200.2 L519.87,201.41 Q521.88,201.27 522.23,203.02 L521.65,203.95 Q521.88,206 519.39,206.44 L512.97,205.83 Q510.84,206 509.5,204.05 L510.81,202.82 Q510.84,201.27 514.07,200.2 Z"/>
<path d="M526.75,201.16 L547.49,201.2 Q550.68,201.27 549.58,202.52 L550.48,202.57 Q550.68,206 548.23,206.03 L524.68,206.38 Q523.68,206 522.51,204.37 L524.46,203.59 Q523.68,201.27 526.75,201.16 Z"/>
<path d="M554.77,200.93 L562.85,200.25 Q563.87,201.27 564.87,204.95 L564.52,204.6 Q563.87,206 560.73,207.35 L554.74,207.28 Q552.48,206 553.64,202.78 L553.28,204.76 Q552.48,201.27 554.77,200.93 Z"/>
<path d="M567.54,201.99 L574.07,202.38 Q577.31,201.27 576.68,204.44 L576.31,203.72 Q577.31,206 576.2,205.18 L567.29,206.02 Q565.67,206 565.16,202.42 L564.78,202.61 Q565.67,201.27 567.54,201.99 Z"/>
<path d="M581.9,202.38 L606.7,202.07 Q609.91,201.27 608.83,203.64 L610.29,203.32 Q609.91,206 608.67,206.15 L581.62,207.07 Q579.11,206 578,205.1 L579.47,203.26 Q579.11,201.27 581.9,202.38 Z"/>
<path d="M613.34,202.65 L637.39,200.88 Q639.46,201.27 640.2,203.4 L638.56,204.4 Q639.46,206 635.91,206.9 L613.31,206.39 Q611.71,206 613.07,203.96 L612.17,203.03 Q611.71,201.27 613.34,202.65 Z"/>
<path d="M642.24,200.29 L649.54,201.08 Q651.5,201.27 651.54,204.67 L650.47,202.95 Q651.5,206 649.65,204.66 L642.15,205.59 Q641.26,206 640.16,203.32 L640.49,203.79 Q641.26,201.27 642.24,200.29 Z"/>
<path d="M654.76,201.62 L674.11,200.25 Q676.46,201.27 677.68,202.84 L675.48,202.58 Q676.46,206 674.56,207.04 L656.37,205.73 Q653.3,206 652.64,202.35 L653.71,203.73 Q653.3,201.27 654.76,201.62 Z"/>
<path d="M680.95,201.12 L695.11,201.93 Q696.17,201.27 695.46,204.69 L694.89,203.8 Q696.17,206 693.62,205.27 L679.31,206.78 Q678.26,206 676.9,203.86 L679.5,202.56 Q678.26,201.27 680.95,201.12 Z"/>
<path d="M700.55,201.29 L710.67,202.15 Q712.56,201.27 711.65,203.02 L712,202.45 Q712.56,206 711.36,206.79 L700.86,204.62 Q697.97,206 698.93,204.4 L697.87,204.23 Q697.97,201.27 700.55,201.29 Z"/>
<path d="M715.87,200.17 L731.48,199.98 Q734.51,201.27 734.05,204.26 L735.06,204.68 Q734.51,206 732.82,205.34 L716.79,205.82 Q714.36,206 715.17,203.78 L713.7,203.96 Q714.36,201.27 715.87,200.17 Z"/>
<path d="M737.8,202.34 L764.1,200.6 Q767.75,201.27 767.01,204.24 L768.99,204.4 Q767.75,206 764.98,207.06 L738.12,205.27 Q736.31,206 737.45,204.08 L736.85,204.02 Q736.31,201.27 737.8,202.34 Z"/>
<path d="M771.74,202.22 L799.55,202.27 Q801.28,201.27 801.11,204.19 L801.48,203.18 Q801.28,206 798.19,206.34 L770.65,207.15 Q769.55,206 768.55,202.39 L768.44,204.76 Q769.55,201.27 771.74,202.22 Z"/>
<path d="M804.36,199.95 L817.3,201.81 Q820.87,201.27 821.25,204.11 L821.53,202.5 Q820.87,206 818.84,205.62 L806.26,206.89 Q803.08,206 804.18,202.5 L804.11,204.72 Q803.08,201.27 804.36,199.95 Z"/>
<path d="M823.85,200.45 L850.27,199.97 Q853.65,201.27 854.62,204.43 L854.02,204.63 Q853.65,206 851.73,205.4 L823.83,204.87 Q822.67,206 823.39,202.89 L822.16,203.34 Q822.67,201.27 823.85,200.45 Z"/>
<path d="M442.56,206.02 L464.81,206.53 Q466.19,206.52 467.18,209.53 L464.88,209.45 Q466.19,212.38 463.34,213.14 L442.5,212.95 Q440.25,212.38 440.35,208.9 L441.26,208.06 Q440.25,206.52 442.56,206.02 Z"/>
<path d="M469.75,205.13 L492.72,207.26 Q496.23,206.52 497.57,207.81 L496.21,209.67 Q496.23,212.38 494.38,211.49 L470.66,211.95 Q467.99,212.38 468.92,209.03 L469.24,208.6 Q467.99,206.52 469.75,205.13 Z"/>
<path d="M501.27,206.52 L509.18,206.9 Q512.95,206.52 511.78,210.01 L513.51,210.5 Q512.95,212.38 510.63,211.97 L500.43,212.08 Q498.03,212.38 499.12,208.54 L499.12,207.87 Q498.03,206.52 501.27,206.52 Z"/>
<path d="M516.77,207.65 L526.81,206.18 Q529.49,206.52 530.56,208.46 L529.38,209.79 Q529.49,212.38 527.52,213.09 L517.84,211.95 Q514.75,212.38 514.27,208.73 L515.72,209.66 Q514.75,206.52 516.77,207.65 Z"/>
<path d="M533.04,206.35 L555.9,206.74 Q557.81,206.52 556.77,209.09 L558.89,208.96 Q557.81,212.38 554.27,211.82 L534.54,213.34 Q531.29,212.38 530.32,208.73 L530.58,208.72 Q531.29,206.52 533.04,206.35 Z"/>
<path d="M561.34,206.04 L577.75,207.85 Q581.3,206.52 581.94,208.09 L582.6,208.58 Q581.3,212.38 578.3,213.73 L563.12,213.03 Q559.61,212.38 559.43,208.85 L560,208.1 Q559.61,206.52 561.34,206.04 Z"/>
<path d="M585.47,205.22 L594.88,207.34 Q597.84,206.52 598.38,209.2 L598.21,209.59 Q597.84,212.38 594.16,212.67 L585.51,213.05 Q583.1,212.38 584.24,209.5 L583.31,209.9 Q583.1,206.52 585.47,205.22 Z"/>
<path d="M601.56,207.14 L617.49,207.29 Q619.11,206.52 619.67,210.19 L619.61,210.09 Q619.11,212.38 616.3,211.85 L602.68,211.25 Q599.64,212.38 599.42,210.49 L600.24,209.56 Q599.64,206.52 601.56,207.14 Z"/>
<path d="M623.37,206.4 L634.27,206.27 Q636.61,206.52 637.1,210.41 L635.72,210.13 Q636.61,212.38 634.71,212.07 L623.56,213.71 Q620.91,212.38 619.61,209.82 L619.96,209.99 Q620.91,206.52 623.37,206.4 Z"/>
<path d="M641.14,205.4 L666.83,206.64 Q669.3,206.52 669.91,209.24 L669.69,210.62 Q669.3,212.38 666.68,212.13 L642.34,211.57 Q638.41,212.38 638.93,209.4 L639.14,208.14 Q638.41,206.52 641.14,205.4 Z"/>
<path d="M673.38,205.28 L699.65,206.24 Q702.96,206.52 701.6,208.97 L702.74,210.25 Q702.96,212.38 699.87,211.72 L673.01,213.05 Q671.1,212.38 672.33,209.77 L670.32,210.05 Q671.1,206.52 673.38,205.28 Z"/>
<path d="M706.63,205.48 L721.68,207.39 Q723.58,206.52 723.96,209.11 L723.76,208.93 Q723.58,212.38 722.2,211.97 L707.83,213.27 Q704.76,212.38 705.65,209.61 L704.18,209.34 Q704.76,206.52 706.63,205.48 Z"/>
<path d="M729,206.12 L736.64,205.87 Q738.34,206.52 737.99,208.51 L738.13,208.82 Q738.34,212.38 734.27,213 L727.45,211.66 Q725.38,212.38 724.83,209.64 L725.18,209.59 Q725.38,206.52 729,206.12 Z"/>
<path d="M742.43,207.72 L763.15,205.28 Q764.84,206.52 765.76,210.34 L765.64,208.69 Q764.84,212.38 763.09,212.75 L741.46,211.01 Q740.14,212.38 741.4,210.13 L739.44,208.09 Q740.14,206.52 742.43,207.72 Z"/>
<path d="M768.57,207.3 L776.87,205.55 Q779.98,206.52 781.11,210.02 L779.05,210.79 Q779.98,212.38 777.61,213.16 L769.79,213.48 Q766.64,212.38 767.45,210.65 L765.79,209.74 Q766.64,206.52 768.57,207.3 Z"/>
<path d="M785.14,206.35 L802.05,206.68 Q803.66,206.52 803,208.46 L802.65,209.68 Q803.66,212.38 799.74,212.28 L783.46,212.35 Q781.78,212.38 781.78,209.81 L782.8,207.82 Q781.78,206.52 785.14,206.35 Z"/>
<path d="M808.05,206.7 L831.94,207.48 Q834.16,206.52 833.81,208.97 L835.45,208.51 Q834.16,212.38 831.86,212.76 L806.82,212.68 Q805.46,212.38 805.97,210.91 L804.98,210.55 Q805.46,206.52 808.05,206.7 Z"/>
<path d="M431.6,213.78 L435.4,214.44 Q438.89,213.43 438.52,216.39 L438.97,218.03 Q438.89,220.31 435.05,220.13 L430.77,220.46 Q427.95,220.31 428.86,216.69 L428.87,216.2 Q427.95,213.43 431.6,213.78 Z"/>
<path d="M443.09,213.45 L460.27,213.86 Q461.98,213.43 462.79,215.99 L461.46,216.71 Q461.98,220.31 459.18,220.69 L444.53,219.02 Q440.69,220.31 441.32,218.35 L440.82,215.21 Q440.69,213.43 443.09,213.45 Z"/>
<path d="M465.43,212.56 L478.73,213.73 Q480.59,213.43 481.03,217.28 L481.73,217.58 Q480.59,220.31 477.87,220.66 L467.37,220.58 Q463.78,220.31 464.28,216.47 L464.24,216.35 Q463.78,213.43 465.43,212.56 Z"/>
<path d="M484.31,212.54 L505.03,214.2 Q509.36,213.43 510.52,216.9 L509,218.17 Q509.36,220.31 507.13,220.48 L484.75,219.75 Q482.39,220.31 482.17,216.76 L482.19,216.86 Q482.39,213.43 484.31,212.54 Z"/>
<path d="M512.96,213.62 L537.58,212.36 Q541.91,213.43 542.78,216.68 L543.08,217.12 Q541.91,220.31 537.51,219.99 L514.46,221.53 Q511.16,220.31 512.51,217.2 L510.92,215.35 Q511.16,213.43 512.96,213.62 Z"/>
<path d="M545.94,212.45 L563.69,212.04 Q568.09,213.43 568.6,215.41 L569.39,216.12 Q568.09,220.31 566.09,219.27 L545.4,220.92 Q543.71,220.31 542.99,217.92 L542.83,215.21 Q543.71,213.43 545.94,212.45 Z"/>
<path d="M573.53,214.42 L594.72,212.26 Q597.12,213.43 597.48,217.05 L597.01,218.48 Q597.12,220.31 593.39,221.61 L573.54,218.94 Q569.89,220.31 568.53,217.69 L570.78,215.29 Q569.89,213.43 573.53,214.42 Z"/>
<path d="M602.6,212.49 L613.93,213.39 Q615.96,213.43 614.73,216.1 L616.17,217.1 Q615.96,220.31 613.42,219.31 L602.79,219.93 Q598.92,220.31 599.32,217.63 L598.69,216.15 Q598.92,213.43 602.6,212.49 Z"/>
<path d="M622.04,214.22 L642.41,212.85 Q645.26,213.43 644.03,217.79 L645.83,218.19 Q645.26,220.31 641.75,220.61 L622.14,221.24 Q617.76,220.31 618.04,216.73 L617.56,217.55 Q617.76,213.43 622.04,214.22 Z"/>
<path d="M650.61,213.71 L663.62,214.29 Q665.54,213.43 664.94,215.07 L664.88,217.05 Q665.54,220.31 662.75,221.19 L651.18,219.03 Q647.06,220.31 647.99,218.14 L648.09,216.67 Q647.06,213.43 650.61,213.71 Z"/>
<path d="M671.37,214.29 L681.05,214.59 Q683.57,213.43 683.14,215.3 L683.72,218.1 Q683.57,220.31 679.69,221.01 L671.59,219.56 Q667.34,220.31 667.64,217.77 L667.25,215.64 Q667.34,213.43 671.37,214.29 Z"/>
<path d="M689.11,214.24 L698.02,212.27 Q701.17,213.43 702.03,217.23 L700.43,217.49 Q701.17,220.31 699.25,221.39 L688.47,220.24 Q685.37,220.31 685.62,216.4 L684.51,215.57 Q685.37,213.43 689.11,214.24 Z"/>
<path d="M705.63,213.61 L725.29,213.48 Q728.6,213.43 727.61,215.19 L729.99,216.92 Q728.6,220.31 724.46,220.68 L706.82,219.35 Q702.97,220.31 703.25,216.84 L703.03,215.12 Q702.97,213.43 705.63,213.61 Z"/>
<path d="M734.81,214.45 L738.26,213.62 Q741.34,213.43 740.67,217.25 L741.13,218.52 Q741.34,220.31 739.05,221.2 L734.73,219.62 Q730.4,220.31 729.1,216.43 L729.5,215.3 Q730.4,213.43 734.81,214.45 Z"/>
<path d="M746.33,214.47 L751.3,214.68 Q754.46,213.43 755.61,215.25 L754.73,216.98 Q754.46,220.31 750.36,221.59 L745.49,220.49 Q743.14,220.31 743.53,218.55 L743.61,216.17 Q743.14,213.43 746.33,214.47 Z"/>
<path d="M758.34,214.73 L774.66,212.65 Q776.32,213.43 775.03,215.78 L775.91,218.4 Q776.32,220.31 774.42,221.25 L758.03,221.11 Q756.26,220.31 756.84,217.68 L757.62,215.22 Q756.26,213.43 758.34,214.73 Z"/>
<path d="M781.87,214.66 L788.96,212.86 Q791.51,213.43 791.76,217.19 L790.4,216.78 Q791.51,220.31 787.79,219.26 L781.11,219.38 Q778.12,220.31 777.39,216.27 L778.62,215.1 Q778.12,213.43 781.87,214.66 Z"/>
<path d="M795.49,212.13 L817.45,212.65 Q819.29,213.43 820.5,217.49 L820.37,216.26 Q819.29,220.31 816.1,219.18 L797.55,221.27 Q793.31,220.31 793.67,217.14 L792.86,217.37 Q793.31,213.43 795.49,212.13 Z"/>
<path d="M824.48,212.43 L837.97,212.19 Q841.79,213.43 842.39,216.62 L840.8,218.31 Q841.79,220.31 838.1,220.06 L823.16,219.67 Q821.09,220.31 822.04,216.81 L820.16,216.44 Q821.09,213.43 824.48,212.43 Z"/>
<path d="M446.07,222.03 L472.12,220.12 Q475.35,220.92 475.28,224.02 L474.67,225.16 Q475.35,229.69 471.27,231.06 L448.71,230.88 Q443.62,229.69 442.49,225.4 L444.73,223.38 Q443.62,220.92 446.07,222.03 Z"/>
<path d="M480.27,222.26 L498.28,221.78 Q503.33,220.92 502.88,223.61 L501.93,226.92 Q503.33,229.69 499.71,228.81 L480.66,230.84 Q477.15,229.69 476.36,226.19 L476.13,223.73 Q477.15,220.92 480.27,222.26 Z"/>
<path d="M509.42,220.08 L527.4,219.77 Q532.28,220.92 532.58,224.61 L531.65,225.17 Q532.28,229.69 528.9,230.27 L509.7,229.92 Q505.13,229.69 504.3,224.78 L505.78,224.37 Q505.13,220.92 509.42,220.08 Z"/>
<path d="M536.53,221.79 L556,221.88 Q560.15,220.92 561.18,224.6 L558.8,227.14 Q560.15,229.69 556.39,230.73 L537.12,228.81 Q534.08,229.69 535.01,225.62 L533.14,224.26 Q534.08,220.92 536.53,221.79 Z"/>
<path d="M564.27,220.98 L581.39,220.97 Q585.24,220.92 584.18,225.22 L586.13,227.01 Q585.24,229.69 581.04,230.28 L565.32,230.39 Q561.95,229.69 560.73,227.04 L563.23,224.61 Q561.95,220.92 564.27,220.98 Z"/>
<path d="M590.83,221.03 L603.5,222.23 Q608.54,220.92 607.76,223.73 L607.42,225.29 Q608.54,229.69 605.73,228.37 L589.61,230.25 Q587.04,229.69 586.19,224.64 L587.32,224.84 Q587.04,220.92 590.83,221.03 Z"/>
<path d="M614.6,219.81 L629.38,221.53 Q632.04,220.92 630.77,223.57 L632.02,225.99 Q632.04,229.69 627.73,228.63 L613.77,228.67 Q610.34,229.69 610.59,227 L609.35,224.83 Q610.34,220.92 614.6,219.81 Z"/>
<path d="M636.6,221.84 L657.99,220.61 Q660.46,220.92 660.24,225.57 L660.54,225.7 Q660.46,229.69 658,230.46 L637.09,228.96 Q633.84,229.69 633.38,225.81 L635.19,225.47 Q633.84,220.92 636.6,221.84 Z"/>
<path d="M666.84,221.9 L687.6,220.97 Q692.55,220.92 693.83,225.84 L691.84,225.77 Q692.55,229.69 689.22,229.31 L666.05,228.48 Q662.26,229.69 662.08,226 L660.92,223.61 Q662.26,220.92 666.84,221.9 Z"/>
<path d="M698.82,222.15 L722.55,221.79 Q725.88,220.92 726.95,225.7 L724.57,226.39 Q725.88,229.69 721.53,230.19 L697.41,229.81 Q694.35,229.69 695.53,226.33 L693.65,224.68 Q694.35,220.92 698.82,222.15 Z"/>
<path d="M732.64,220.33 L743.18,221.34 Q747.42,220.92 746.36,224.89 L748.7,226.03 Q747.42,229.69 743.07,229.6 L731.47,228.7 Q727.68,229.69 726.63,224.96 L727.1,224.36 Q727.68,220.92 732.64,220.33 Z"/>
<path d="M752.2,219.77 L762.19,221.88 Q765.76,220.92 766.07,224.82 L766.18,225.15 Q765.76,229.69 762.65,229.58 L753.05,230 Q749.22,229.69 749.13,225.46 L748.5,223.84 Q749.22,220.92 752.2,219.77 Z"/>
<path d="M770.93,221.16 L783.97,220.51 Q789.04,220.92 790.05,223.89 L789.2,225.97 Q789.04,229.69 784.74,231.05 L770.69,230.45 Q767.56,229.69 766.61,224.78 L768.6,224.45 Q767.56,220.92 770.93,221.16 Z"/>
<path d="M794.22,220.76 L799.36,219.83 Q802.4,220.92 801.63,225.91 L803.07,225.02 Q802.4,229.69 798.25,229.28 L795.02,230.01 Q790.84,229.69 791.82,226.89 L790.89,225.29 Q790.84,220.92 794.22,220.76 Z"/>
<path d="M808.63,220.86 L827.85,221.51 Q830.75,220.92 831.91,223.58 L831.79,224.6 Q830.75,229.69 827.8,229.93 L807.89,230.98 Q804.2,229.69 804.4,225.76 L805,225.67 Q804.2,220.92 808.63,220.86 Z"/>
<path d="M440.35,230.08 L453.95,230.81 Q457.13,230.66 456.8,233.03 L457.93,235.17 Q457.13,237.07 454.25,236.91 L438.84,236.52 Q436.85,237.07 435.86,234.41 L437.08,232.38 Q436.85,230.66 440.35,230.08 Z"/>
<path d="M461.31,231.62 L487.45,231.94 Q489.37,230.66 488.54,233.33 L490.52,232.82 Q489.37,237.07 485.23,237.25 L461.79,238.24 Q458.93,237.07 459.69,234.3 L460.32,233.58 Q458.93,230.66 461.31,231.62 Z"/>
<path d="M494.56,230.35 L509.48,230.92 Q512.75,230.66 512.33,234.79 L513.25,234.27 Q512.75,237.07 508.76,236.72 L493.77,237.24 Q491.17,237.07 491.38,235.26 L492.47,233.5 Q491.17,230.66 494.56,230.35 Z"/>
<path d="M517.77,232.05 L531.12,230.74 Q534.44,230.66 535.32,232.61 L533.93,235.53 Q534.44,237.07 532.48,237.1 L516.33,238.17 Q514.55,237.07 515.08,235.09 L515.92,234.62 Q514.55,230.66 517.77,232.05 Z"/>
<path d="M538.15,230.07 L552.85,230.67 Q555.69,230.66 554.82,232.64 L556.06,234.48 Q555.69,237.07 552.41,238.45 L539.49,235.79 Q536.24,237.07 535.99,235 L535.69,234.07 Q536.24,230.66 538.15,230.07 Z"/>
<path d="M559.82,231.62 L565.15,231.13 Q567.78,230.66 566.93,233.53 L567.93,233.54 Q567.78,237.07 565.32,237.16 L561.76,237.28 Q557.49,237.07 557.25,233.13 L556.53,234.26 Q557.49,230.66 559.82,231.62 Z"/>
<path d="M571.33,229.74 L579.32,231.56 Q582.13,230.66 582.44,234.39 L580.9,232.83 Q582.13,237.07 580.01,236.57 L573.06,236.66 Q569.58,237.07 568.66,233.54 L568.46,234.66 Q569.58,230.66 571.33,229.74 Z"/>
<path d="M586.38,230.52 L603.74,229.41 Q606.94,230.66 608.03,233.76 L608.22,234.03 Q606.94,237.07 604.4,236.37 L585.52,238.27 Q583.93,237.07 584.92,233.68 L585.04,234.42 Q583.93,230.66 586.38,230.52 Z"/>
<path d="M611.9,231.95 L622.73,231.92 Q625.62,230.66 624.9,233.22 L626.23,233.41 Q625.62,237.07 622.21,238.12 L611.57,237.89 Q608.74,237.07 608.02,233.28 L608.34,232.65 Q608.74,230.66 611.9,231.95 Z"/>
<path d="M629.7,230.83 L655.04,230.75 Q658.99,230.66 658.67,233.26 L657.77,233.14 Q658.99,237.07 657.03,236.65 L629.58,236.2 Q627.42,237.07 626.81,233.46 L626.12,233.99 Q627.42,230.66 629.7,230.83 Z"/>
<path d="M662.7,231.24 L674.49,230.01 Q678.5,230.66 679.44,232.49 L678.34,235.14 Q678.5,237.07 676.48,236.11 L663.25,237.69 Q660.79,237.07 660.45,235.48 L659.97,234.79 Q660.79,230.66 662.7,231.24 Z"/>
<path d="M682.41,230.53 L697.7,231.24 Q701.61,230.66 700.94,234.65 L701.85,233.83 Q701.61,237.07 698.03,237.37 L682.37,238.11 Q680.3,237.07 679.25,234.23 L680.42,232.89 Q680.3,230.66 682.41,230.53 Z"/>
<path d="M705.96,231.1 L727.9,230.13 Q730.59,230.66 730.28,232.37 L729.68,235.18 Q730.59,237.07 727.21,237.52 L705.19,237.24 Q703.41,237.07 703.02,234.2 L702.84,232.32 Q703.41,230.66 705.96,231.1 Z"/>
<path d="M734.49,229.61 L747.17,230.05 Q749.44,230.66 749.16,234.68 L750.21,235.27 Q749.44,237.07 747.57,236.04 L734.63,235.75 Q732.39,237.07 732.89,234.65 L731.97,233.29 Q732.39,230.66 734.49,229.61 Z"/>
<path d="M754.67,229.95 L774.03,230.25 Q775.93,230.66 776.3,232.64 L774.86,235.35 Q775.93,237.07 773.72,237.66 L752.82,235.78 Q751.24,237.07 750.29,233.35 L750.68,233.2 Q751.24,230.66 754.67,229.95 Z"/>
<path d="M780.08,231.05 L785.03,231.61 Q788.8,230.66 788.99,234.14 L788.11,234.01 Q788.8,237.07 786.44,236.64 L779.21,238 Q777.73,237.07 778.51,233.6 L776.46,234.52 Q777.73,230.66 780.08,231.05 Z"/>
<path d="M792.2,229.94 L810.2,231.48 Q814.16,230.66 813.35,234.69 L814.86,233.04 Q814.16,237.07 811.83,236.77 L794.16,237.99 Q790.6,237.07 789.99,233.05 L791.85,233.32 Q790.6,230.66 792.2,229.94 Z"/>
<path d="M819.37,231.33 L844.68,231.02 Q846.63,230.66 846.49,232.28 L847.18,233.99 Q846.63,237.07 843.79,238.27 L817.79,237.8 Q815.96,237.07 814.68,234.76 L816.82,232.86 Q815.96,230.66 819.37,231.33 Z"/>
</g>
<line x1="791" y1="178.3" x2="818" y2="231.9" stroke="#b0b0b0" stroke-width="0.9"/>
<line x1="445" y1="178.3" x2="791" y2="178.3" stroke="#6a6a6a" stroke-width="1"/>
<line x1="445" y1="177.3" x2="445" y2="186" stroke="#e4e4e4" stroke-width="0.8"/>
<line x1="445" y1="185.5" x2="821" y2="232.2" stroke="#e7b7c0" stroke-width="0.7" opacity="0.8"/>
<line x1="445" y1="184.8" x2="821" y2="231.5" stroke="#4db489" stroke-width="1.4"/>
<line x1="762" y1="169.5" x2="784" y2="169.5" stroke="#d0d0d0" stroke-width="0.8"/>
<line x1="784" y1="169.5" x2="791" y2="178.3" stroke="#d0d0d0" stroke-width="0.8"/>
<polyline points="532.5,181 532.5,223.4 548.5,223.4 548.5,181" stroke="#a8a8a8" stroke-width="0.7" fill="none" stroke-dasharray="2 1.5"/>
<line x1="540.5" y1="178" x2="540.5" y2="227.4" stroke="#b5b5b5" stroke-width="0.6" stroke-dasharray="2 1.5"/>
<polyline points="750,181 750,236 766,236 766,181" stroke="#a8a8a8" stroke-width="0.7" fill="none" stroke-dasharray="2 1.5"/>
<line x1="758" y1="178" x2="758" y2="240" stroke="#b5b5b5" stroke-width="0.6" stroke-dasharray="2 1.5"/>
<text x="480" y="186.5" font-size="6.93" fill="#17a05c" text-anchor="start" transform="rotate(7.08 480 186.5)" textLength="34.55" lengthAdjust="spacingAndGlyphs" stroke="#17a05c" stroke-width="0.3">best. Terrain</text>
<text x="784" y="223.8" font-size="6.93" fill="#17a05c" text-anchor="start" transform="rotate(7.08 784 223.8)" textLength="34.55" lengthAdjust="spacingAndGlyphs" stroke="#17a05c" stroke-width="0.3">best. Terrain</text>
<text x="668" y="43.9" font-size="6.6" fill="#111" text-anchor="middle" textLength="26.68" lengthAdjust="spacingAndGlyphs" stroke="#111" stroke-width="0.14">Gef. 1,5%</text>
<polygon points="669.7,173.3 679.3,173.3 674.5,178.3" fill="#000"/>
<text x="675.5" y="172" font-size="6.93" fill="#111" text-anchor="middle" textLength="14.36" lengthAdjust="spacingAndGlyphs" stroke="#111" stroke-width="0.14">-1.20</text>
<text x="447.8" y="267.2" font-size="9.48" fill="#111" text-anchor="start" textLength="63.23" lengthAdjust="spacingAndGlyphs" stroke="#111" stroke-width="0.24">Ansicht Quer 1:50</text>
<line x1="440" y1="273" x2="559.5" y2="273" stroke="#d8d8d8" stroke-width="0.8"/>
<line x1="444.7" y1="255" x2="444.7" y2="282" stroke="#e0e0e0" stroke-width="0.8"/>
<polygon points="834,145.4 863.3,148.9 910.6,169 1174,169.2 1184.4,178.3 1304.4,178.3 1319,201.3 1420.8,213.3 1420.8,241.3 834,241.3" stroke="none" stroke-width="0" fill="#cacaca"/>
<path d="M911.7,44.9 L1285.5,44.9 Q1287.5,45 1287.5,47.5 L1287.5,51.3 L911.7,51.3 Z" stroke="#cfcfcf" stroke-width="1" fill="#fff"/>
<line x1="911.7" y1="47.2" x2="1287.5" y2="47.2" stroke="#e0e0e0" stroke-width="0.8"/>
<line x1="920.5" y1="53.6" x2="1279.4" y2="53.6" stroke="#d2d2d2" stroke-width="1"/>
<rect x="920.4" y="48.3" width="3.2" height="5" fill="none" stroke="#c8c8c8" stroke-width="0.7"/>
<rect x="961.4" y="48.3" width="3.2" height="5" fill="none" stroke="#c8c8c8" stroke-width="0.7"/>
<rect x="1002.4" y="48.3" width="3.2" height="5" fill="none" stroke="#c8c8c8" stroke-width="0.7"/>
<rect x="1043.4" y="48.3" width="3.2" height="5" fill="none" stroke="#c8c8c8" stroke-width="0.7"/>
<rect x="1084.4" y="48.3" width="3.2" height="5" fill="none" stroke="#c8c8c8" stroke-width="0.7"/>
<rect x="1125.4" y="48.3" width="3.2" height="5" fill="none" stroke="#c8c8c8" stroke-width="0.7"/>
<rect x="1166.4" y="48.3" width="3.2" height="5" fill="none" stroke="#c8c8c8" stroke-width="0.7"/>
<rect x="1202.4" y="48.3" width="3.2" height="5" fill="none" stroke="#c8c8c8" stroke-width="0.7"/>
<rect x="1238.4" y="48.3" width="3.2" height="5" fill="none" stroke="#c8c8c8" stroke-width="0.7"/>
<rect x="1274.4" y="48.3" width="3.2" height="5" fill="none" stroke="#c8c8c8" stroke-width="0.7"/>
<rect x="920.5" y="54" width="261.5" height="101.4" fill="#fff" stroke="none" stroke-width="1"/>
<line x1="920.5" y1="53.6" x2="920.5" y2="169" stroke="#9a9a9a" stroke-width="0.9" stroke-dasharray="2.5 1.5"/>
<line x1="1182" y1="54" x2="1182" y2="171" stroke="#bbb" stroke-width="0.8"/>
<line x1="920.5" y1="65.8" x2="1182" y2="65.8" stroke="#dedede" stroke-width="0.8"/>
<line x1="926" y1="68.2" x2="1181" y2="68.2" stroke="#cdcdcd" stroke-width="1.2"/>
<line x1="926" y1="72.7" x2="1181" y2="72.7" stroke="#cdcdcd" stroke-width="1.2"/>
<line x1="926" y1="77.2" x2="1181" y2="77.2" stroke="#cdcdcd" stroke-width="1.2"/>
<line x1="926" y1="81.7" x2="1181" y2="81.7" stroke="#cdcdcd" stroke-width="1.2"/>
<line x1="926" y1="86.2" x2="1181" y2="86.2" stroke="#cdcdcd" stroke-width="1.2"/>
<line x1="926" y1="90.7" x2="1181" y2="90.7" stroke="#cdcdcd" stroke-width="1.2"/>
<line x1="926" y1="95.2" x2="1181" y2="95.2" stroke="#cdcdcd" stroke-width="1.2"/>
<line x1="926" y1="99.7" x2="1181" y2="99.7" stroke="#cdcdcd" stroke-width="1.2"/>
<line x1="926" y1="104.2" x2="1181" y2="104.2" stroke="#cdcdcd" stroke-width="1.2"/>
<line x1="926" y1="108.7" x2="1181" y2="108.7" stroke="#cdcdcd" stroke-width="1.2"/>
<line x1="926" y1="113.2" x2="1181" y2="113.2" stroke="#cdcdcd" stroke-width="1.2"/>
<line x1="926" y1="117.7" x2="1181" y2="117.7" stroke="#cdcdcd" stroke-width="1.2"/>
<line x1="926" y1="122.2" x2="1181" y2="122.2" stroke="#cdcdcd" stroke-width="1.2"/>
<line x1="926" y1="126.7" x2="1181" y2="126.7" stroke="#cdcdcd" stroke-width="1.2"/>
<line x1="926" y1="131.2" x2="1181" y2="131.2" stroke="#cdcdcd" stroke-width="1.2"/>
<line x1="926" y1="135.7" x2="1181" y2="135.7" stroke="#cdcdcd" stroke-width="1.2"/>
<line x1="926" y1="140.2" x2="1181" y2="140.2" stroke="#cdcdcd" stroke-width="1.2"/>
<line x1="926" y1="144.7" x2="1181" y2="144.7" stroke="#cdcdcd" stroke-width="1.2"/>
<line x1="926" y1="149.2" x2="1181" y2="149.2" stroke="#cdcdcd" stroke-width="1.2"/>
<line x1="926" y1="153.7" x2="1181" y2="153.7" stroke="#cdcdcd" stroke-width="1.2"/>
<line x1="920.5" y1="155.6" x2="1182" y2="155.6" stroke="#cfcfcf" stroke-width="0.9"/>
<line x1="920.5" y1="160.5" x2="1182" y2="160.5" stroke="#e3e3e3" stroke-width="0.8"/>
<rect x="922" y="66" width="4" height="89.6" fill="#fff" stroke="none" stroke-width="1"/>
<line x1="922" y1="66" x2="922" y2="155.6" stroke="#d8d8d8" stroke-width="0.7"/>
<line x1="926" y1="66" x2="926" y2="155.6" stroke="#d8d8d8" stroke-width="0.7"/>
<rect x="987.8" y="66" width="3" height="89.6" fill="#fff" stroke="none" stroke-width="1"/>
<line x1="987.8" y1="66" x2="987.8" y2="155.6" stroke="#d8d8d8" stroke-width="0.7"/>
<line x1="990.8" y1="66" x2="990.8" y2="155.6" stroke="#d8d8d8" stroke-width="0.7"/>
<rect x="1052" y="66" width="5" height="89.6" fill="#fff" stroke="none" stroke-width="1"/>
<line x1="1052" y1="66" x2="1052" y2="155.6" stroke="#d8d8d8" stroke-width="0.7"/>
<line x1="1057" y1="66" x2="1057" y2="155.6" stroke="#d8d8d8" stroke-width="0.7"/>
<rect x="1119.5" y="66" width="3" height="89.6" fill="#fff" stroke="none" stroke-width="1"/>
<line x1="1119.5" y1="66" x2="1119.5" y2="155.6" stroke="#d8d8d8" stroke-width="0.7"/>
<line x1="1122.5" y1="66" x2="1122.5" y2="155.6" stroke="#d8d8d8" stroke-width="0.7"/>
<line x1="975.5" y1="66.5" x2="936" y2="155" stroke="#b5b5b5" stroke-width="3.0"/>
<line x1="975.5" y1="66.5" x2="936" y2="155" stroke="#fff" stroke-width="1.6"/>
<line x1="1002" y1="66.5" x2="1043" y2="155" stroke="#b5b5b5" stroke-width="3.0"/>
<line x1="1002" y1="66.5" x2="1043" y2="155" stroke="#fff" stroke-width="1.6"/>
<line x1="1107" y1="66.5" x2="1066.7" y2="155" stroke="#b5b5b5" stroke-width="3.0"/>
<line x1="1107" y1="66.5" x2="1066.7" y2="155" stroke="#fff" stroke-width="1.6"/>
<line x1="1134" y1="66.5" x2="1175" y2="155" stroke="#b5b5b5" stroke-width="3.0"/>
<line x1="1134" y1="66.5" x2="1175" y2="155" stroke="#fff" stroke-width="1.6"/>
<line x1="923.6" y1="155.6" x2="923.6" y2="169" stroke="#aaa" stroke-width="1"/>
<line x1="1054.5" y1="155.6" x2="1054.5" y2="169" stroke="#aaa" stroke-width="1"/>
<line x1="1186" y1="171" x2="1186" y2="178.3" stroke="#aaa" stroke-width="1"/>
<line x1="1275.6" y1="171" x2="1275.6" y2="178.3" stroke="#aaa" stroke-width="1"/>
<rect x="1182" y="54" width="97.4" height="117.1" fill="#fff" stroke="#c6c6c6" stroke-width="0.8"/>
<line x1="1183" y1="58.5" x2="1279" y2="58.5" stroke="#cdcdcd" stroke-width="1.2"/>
<line x1="1183" y1="63" x2="1279" y2="63" stroke="#cdcdcd" stroke-width="1.2"/>
<line x1="1183" y1="67.5" x2="1279" y2="67.5" stroke="#cdcdcd" stroke-width="1.2"/>
<line x1="1183" y1="72" x2="1279" y2="72" stroke="#cdcdcd" stroke-width="1.2"/>
<line x1="1183" y1="76.5" x2="1279" y2="76.5" stroke="#cdcdcd" stroke-width="1.2"/>
<line x1="1183" y1="81" x2="1279" y2="81" stroke="#cdcdcd" stroke-width="1.2"/>
<line x1="1183" y1="85.5" x2="1279" y2="85.5" stroke="#cdcdcd" stroke-width="1.2"/>
<line x1="1183" y1="90" x2="1279" y2="90" stroke="#cdcdcd" stroke-width="1.2"/>
<line x1="1183" y1="94.5" x2="1279" y2="94.5" stroke="#cdcdcd" stroke-width="1.2"/>
<line x1="1183" y1="99" x2="1279" y2="99" stroke="#cdcdcd" stroke-width="1.2"/>
<line x1="1183" y1="103.5" x2="1279" y2="103.5" stroke="#cdcdcd" stroke-width="1.2"/>
<line x1="1183" y1="108" x2="1279" y2="108" stroke="#cdcdcd" stroke-width="1.2"/>
<line x1="1183" y1="112.5" x2="1279" y2="112.5" stroke="#cdcdcd" stroke-width="1.2"/>
<line x1="1183" y1="117" x2="1279" y2="117" stroke="#cdcdcd" stroke-width="1.2"/>
<line x1="1183" y1="121.5" x2="1279" y2="121.5" stroke="#cdcdcd" stroke-width="1.2"/>
<line x1="1183" y1="126" x2="1279" y2="126" stroke="#cdcdcd" stroke-width="1.2"/>
<line x1="1183" y1="130.5" x2="1279" y2="130.5" stroke="#cdcdcd" stroke-width="1.2"/>
<line x1="1183" y1="135" x2="1279" y2="135" stroke="#cdcdcd" stroke-width="1.2"/>
<line x1="1183" y1="139.5" x2="1279" y2="139.5" stroke="#cdcdcd" stroke-width="1.2"/>
<line x1="1183" y1="144" x2="1279" y2="144" stroke="#cdcdcd" stroke-width="1.2"/>
<line x1="1183" y1="148.5" x2="1279" y2="148.5" stroke="#cdcdcd" stroke-width="1.2"/>
<line x1="1183" y1="153" x2="1279" y2="153" stroke="#cdcdcd" stroke-width="1.2"/>
<line x1="1183" y1="157.5" x2="1279" y2="157.5" stroke="#cdcdcd" stroke-width="1.2"/>
<line x1="1183" y1="162" x2="1279" y2="162" stroke="#cdcdcd" stroke-width="1.2"/>
<line x1="1183" y1="166.5" x2="1279" y2="166.5" stroke="#cdcdcd" stroke-width="1.2"/>
<line x1="1183" y1="171" x2="1279" y2="171" stroke="#cdcdcd" stroke-width="1.2"/>
<line x1="1188.9" y1="84.6" x2="1233.3" y2="84.6" stroke="#888" stroke-width="0.9"/>
<line x1="1188.9" y1="84.6" x2="1188.9" y2="171.1" stroke="#888" stroke-width="0.9"/>
<line x1="1233.3" y1="84.6" x2="1233.3" y2="171.1" stroke="#888" stroke-width="0.9"/>
<line x1="1182" y1="171.1" x2="1279.4" y2="171.1" stroke="#bbb" stroke-width="0.9"/>
<polyline points="915.8,170 915.8,214.2 930.8,214.2 930.8,170" stroke="#a8a8a8" stroke-width="0.7" fill="none" stroke-dasharray="2 1.5"/>
<line x1="923.3" y1="169" x2="923.3" y2="218.2" stroke="#b0b0b0" stroke-width="0.6" stroke-dasharray="2 1.5"/>
<polyline points="1047.5,170 1047.5,214.2 1062.5,214.2 1062.5,170" stroke="#a8a8a8" stroke-width="0.7" fill="none" stroke-dasharray="2 1.5"/>
<line x1="1055" y1="169" x2="1055" y2="218.2" stroke="#b0b0b0" stroke-width="0.6" stroke-dasharray="2 1.5"/>
<polyline points="1178.9,170 1178.9,223.3 1193.3,223.3 1193.3,170" stroke="#a8a8a8" stroke-width="0.7" fill="none" stroke-dasharray="2 1.5"/>
<line x1="1186.1" y1="169" x2="1186.1" y2="227.3" stroke="#b0b0b0" stroke-width="0.6" stroke-dasharray="2 1.5"/>
<polyline points="1268,170 1268,223.3 1282.8,223.3 1282.8,170" stroke="#a8a8a8" stroke-width="0.7" fill="none" stroke-dasharray="2 1.5"/>
<line x1="1275.4" y1="169" x2="1275.4" y2="227.3" stroke="#b0b0b0" stroke-width="0.6" stroke-dasharray="2 1.5"/>
<polyline points="863,149 1030,167.6 1170,181.7 1330,193.3 1421,200" stroke="#4db88a" stroke-width="1.3" fill="none" stroke-dasharray="8 5" opacity="0.85"/>
<polyline points="896.7,162 1030,171.8 1170,184.4 1319,201.3" stroke="#4db88a" stroke-width="1.3" fill="none" stroke-dasharray="8 5" opacity="0.85"/>
<polyline points="1319,201.3 1421,213" stroke="#3aa878" stroke-width="1.3" fill="none"/>
<polyline points="834,145.4 863.3,148.9 910.6,169" stroke="#7fbf9f" stroke-width="0.9" fill="none"/>
<line x1="1304.4" y1="178.3" x2="1319" y2="201.3" stroke="#cfcfcf" stroke-width="0.8"/>
<text x="855.7" y="148" font-size="6.93" fill="#17a05c" text-anchor="start" transform="rotate(6 855.7 148)" textLength="34.55" lengthAdjust="spacingAndGlyphs" stroke="#17a05c" stroke-width="0.3">best. Terrain</text>
<text x="834.5" y="158.5" font-size="6.16" fill="#17a05c" text-anchor="start" transform="rotate(6 834.5 158.5)" textLength="56.64" lengthAdjust="spacingAndGlyphs" stroke="#17a05c" stroke-width="0.3">Terrain best. Sitzgasse</text>
<text x="1341" y="203.2" font-size="6.93" fill="#17a05c" text-anchor="start" transform="rotate(6 1341 203.2)" textLength="34.55" lengthAdjust="spacingAndGlyphs" stroke="#17a05c" stroke-width="0.3">best. Terrain</text>
<polygon points="1144.2,164.2 1153.8,164.2 1149,169.2" fill="#000"/>
<text x="1150" y="163" font-size="6.93" fill="#111" text-anchor="middle" textLength="14.36" lengthAdjust="spacingAndGlyphs" stroke="#111" stroke-width="0.14">-1.00</text>
<polygon points="1243.9,173.3 1253.5,173.3 1248.7,178.3" fill="#000"/>
<text x="1249.7" y="172" font-size="6.93" fill="#111" text-anchor="middle" textLength="14.36" lengthAdjust="spacingAndGlyphs" stroke="#111" stroke-width="0.14">-1.20</text>
<text x="837.5" y="267" font-size="9.48" fill="#111" text-anchor="start" textLength="67.19" lengthAdjust="spacingAndGlyphs" stroke="#111" stroke-width="0.24">Ansicht Längs 1:50</text>
<line x1="830" y1="273" x2="948" y2="273" stroke="#d8d8d8" stroke-width="0.8"/>
<line x1="834" y1="255" x2="834" y2="282" stroke="#e0e0e0" stroke-width="0.8"/>
<line x1="76.2" y1="361" x2="158" y2="345.2" stroke="#333333" stroke-width="1.1"/>
<line x1="76.2" y1="430.3" x2="461.2" y2="398.6" stroke="#333333" stroke-width="1.1"/>
<line x1="76.25" y1="771.75" x2="463.5" y2="788.75" stroke="#333333" stroke-width="1.1"/>
<path d="M262,354.6 C330,366 400,380 463,403 C510,435 620,500 676,553" stroke="#dadada" stroke-width="1.4" fill="none" stroke-dasharray="18 5"/>
<path d="M354.8,471 C392,464 432,448 447.5,423" stroke="#d4d4d4" stroke-width="1.1" fill="none"/>
<path d="M383.7,519.6 C400,520 420,522 441,536.6" stroke="#cfcfcf" stroke-width="1.0" fill="none"/>
<path d="M463,548 C480,552 500,556 527.5,558" stroke="#cfcfcf" stroke-width="1.0" fill="none"/>
<line x1="352.7" y1="508.5" x2="526.7" y2="508.5" stroke="#d0d0d0" stroke-width="1.1" stroke-dasharray="5 3"/>
<polygon points="108.5,460.6 181.7,453 184.3,473.4 302.4,463 306.9,500 307.9,514.6 303.75,515.6 314.6,630.2 217.3,638 209.6,555.8 118.3,563.5" stroke="#222" stroke-width="1.0" fill="#a6a6a6"/>
<line x1="110.5" y1="480.4" x2="184.3" y2="473.4" stroke="#222" stroke-width="1.1" stroke-dasharray="4 2.5"/>
<polyline points="118.3,563.5 120,586.5" stroke="#222" stroke-width="1.0" fill="none"/>
<polyline points="120,586.5 196.5,579.8 201.7,639.2 217.3,638" stroke="#222" stroke-width="1.0" fill="none" stroke-dasharray="4 2.5"/>
<polyline points="217.3,638 218.75,653 315.2,645.2 314.6,630.2" stroke="#222" stroke-width="1.0" fill="none"/>
<text x="117.4" y="496.8" font-size="14.5" fill="#000" text-anchor="start" stroke="#000" stroke-width="0.35">33</text>
<text x="235" y="583" font-size="6.93" fill="#000" text-anchor="start" textLength="54.4" lengthAdjust="spacingAndGlyphs" stroke="#000" stroke-width="0.14">± 0.00 = OK FB EG</text>
<polygon points="230.5,587.5 233.65,586.99 231.01,584.35" fill="#000"/>
<polygon points="230.5,587.5 229.99,590.65 227.35,588.01" fill="#000"/>
<text x="299.6" y="639" font-size="6.16" fill="#000" text-anchor="start" textLength="12.35" lengthAdjust="spacingAndGlyphs" stroke="#000" stroke-width="0.14">-0.11</text>
<polygon points="295.5,642.5 298.3,642.04 295.96,639.7" fill="#000"/>
<polygon points="295.5,642.5 295.04,645.3 292.7,642.96" fill="#000"/>
<path d="M218.75,653 L220.5,662 L224.6,669.8 L233,677.5 L243.3,683.3 L273.75,691 L423.2,731.7 L463,743.5 L499,756.5 L562.5,775 L588.5,786.7 C605,793 622,800 640,800 C655,800 668,796 678,787.6" stroke="#333333" stroke-width="1.1" fill="none"/>
<path d="M76.25,642.7 L82,655 L88.1,666.7 L97,673.5 L107.9,679.6 L127,686.5 L145,692 L217.5,706.25 L340,742.5 L401.7,759.4 L560,808.7 C573,814 584,819 593.7,825.5 C603,832 611,839 619,846.6 C626,855 632,862 637.3,869 L652,897" stroke="#333333" stroke-width="1.1" fill="none"/>
<path d="M814.5,429.2 L678,787.6 L666.8,814.3 L652.8,895.8" stroke="#333333" stroke-width="1.1" fill="none"/>
<line x1="814.5" y1="525" x2="697.8" y2="828.4" stroke="#333333" stroke-width="1.1"/>
<line x1="697.8" y1="828.4" x2="689.3" y2="894.4" stroke="#333333" stroke-width="1.1"/>
<polyline points="273.75,691 273.2,693.6 422.5,734.3 423.2,731.7" stroke="#333333" stroke-width="0.9" fill="none"/>
<polygon points="421,734 423.73,734.77 422.59,731.66" fill="#000"/>
<polygon points="421,734 419.41,736.34 418.27,733.23" fill="#000"/>
<polygon points="499,756.5 501.05,755.1 498.33,754.11" fill="#000"/>
<polygon points="499,756.5 499.67,758.89 496.95,757.9" fill="#000"/>
<polygon points="562.5,775 564.55,773.6 561.83,772.61" fill="#000"/>
<polygon points="562.5,775 563.17,777.39 560.45,776.4" fill="#000"/>
<polygon points="463.5,744 465.55,742.6 462.83,741.61" fill="#000"/>
<polygon points="463.5,744 464.17,746.39 461.45,745.4" fill="#000"/>
<polygon points="666.8,814.3 669.06,813.28 666.55,811.83" fill="#000"/>
<polygon points="666.8,814.3 667.05,816.77 664.54,815.32" fill="#000"/>
<text x="350" y="425.8" font-size="3.52" fill="#111" text-anchor="middle" transform="rotate(-4.7 350 425.8)" textLength="24.9" lengthAdjust="spacingAndGlyphs" stroke="#111" stroke-width="0.14">Neue Stützmauer</text>
<polygon points="299.6,418 457.2,404.8 457.2,665.6 448.8,665.6 448.8,413.3 299.6,425.8" stroke="#e06a6e" stroke-width="1.0" fill="none"/>
<polyline points="299.6,421.9 452.5,409.3 452.5,665.6" stroke="#b58a8a" stroke-width="0.9" fill="none"/>
<line x1="352.6" y1="518.2" x2="448.8" y2="518.2" stroke="#e06a6e" stroke-width="1.1"/>
<line x1="361" y1="516.3" x2="361" y2="518.2" stroke="#e06a6e" stroke-width="0.8"/>
<line x1="371" y1="516.3" x2="371" y2="518.2" stroke="#e06a6e" stroke-width="0.8"/>
<line x1="385" y1="516.3" x2="385" y2="518.2" stroke="#e06a6e" stroke-width="0.8"/>
<line x1="402" y1="516.3" x2="402" y2="518.2" stroke="#e06a6e" stroke-width="0.8"/>
<line x1="416" y1="516.3" x2="416" y2="518.2" stroke="#e06a6e" stroke-width="0.8"/>
<line x1="431" y1="516.3" x2="431" y2="518.2" stroke="#e06a6e" stroke-width="0.8"/>
<line x1="444" y1="516.3" x2="444" y2="518.2" stroke="#e06a6e" stroke-width="0.8"/>
<text x="390.5" y="516.3" font-size="3.08" fill="#111" text-anchor="start" textLength="15.98" lengthAdjust="spacingAndGlyphs" stroke="#111" stroke-width="0.14">Neue Terrain</text>
<text x="402.5" y="522.5" font-size="3.08" fill="#111" text-anchor="start" transform="rotate(12 402.5 522.5)" textLength="15.67" lengthAdjust="spacingAndGlyphs" stroke="#111" stroke-width="0.14">Best. Terrain</text>
<path d="M445,518.2 L450.8,518.2 L453.2,524 L457.6,548.3 L456.6,549.8 L440.1,549.8 Q437,548 438.2,545 Q439,543.5 441.5,542 L442.5,535.7 L444,522 Z" stroke="#a30e0e" stroke-width="0.8" fill="#a30e0e"/>
<line x1="463.5" y1="399.3" x2="463.5" y2="786.5" stroke="#333333" stroke-width="1.1"/>
<circle cx="463.6" cy="397" r="2.4" stroke="#222" stroke-width="1.0" fill="#fff"/>
<circle cx="463.5" cy="788.75" r="2.6" stroke="#222" stroke-width="1.0" fill="#fff"/>
<polygon points="463.5,453.3 466.51,453.34 464.49,450.46" fill="#000"/>
<polygon points="463.5,453.3 462.51,456.14 460.49,453.26" fill="#000"/>
<polygon points="463.5,509 466.51,509.04 464.49,506.16" fill="#000"/>
<polygon points="463.5,509 462.51,511.84 460.49,508.96" fill="#000"/>
<polygon points="463.5,564.8 466.51,564.84 464.49,561.96" fill="#000"/>
<polygon points="463.5,564.8 462.51,567.64 460.49,564.76" fill="#000"/>
<polygon points="463.5,613 466.51,613.04 464.49,610.16" fill="#000"/>
<polygon points="463.5,613 462.51,615.84 460.49,612.96" fill="#000"/>
<line x1="460.5" y1="630" x2="466" y2="625" stroke="#111" stroke-width="1.1"/>
<line x1="460.5" y1="632" x2="466" y2="627" stroke="#111" stroke-width="1.1"/>
<text x="412" y="399.6" font-size="7.04" fill="#000" text-anchor="start" transform="rotate(-4 412 399.6)" textLength="52.29" lengthAdjust="spacingAndGlyphs" stroke="#000" stroke-width="0.14">KS Best. OK -3.98</text>
<text x="472.1" y="388" font-size="7.04" fill="#000" text-anchor="start" textLength="14.59" lengthAdjust="spacingAndGlyphs" stroke="#000" stroke-width="0.14">-4.15</text>
<polygon points="467.6,393 470.4,392.54 468.06,390.2" fill="#000"/>
<polygon points="467.6,393 467.14,395.8 464.8,393.46" fill="#000"/>
<text x="409" y="441" font-size="7.04" fill="#000" text-anchor="start" textLength="14.59" lengthAdjust="spacingAndGlyphs" stroke="#000" stroke-width="0.14">-0.80</text>
<polygon points="430.8,435 433.6,434.54 431.26,432.2" fill="#000"/>
<polygon points="430.8,435 430.34,437.8 428,435.46" fill="#000"/>
<text x="468.3" y="448.7" font-size="6.93" fill="#000" text-anchor="start" textLength="14.36" lengthAdjust="spacingAndGlyphs" stroke="#000" stroke-width="0.14">-3.70</text>
<text x="468.3" y="504.6" font-size="6.93" fill="#000" text-anchor="start" textLength="14.36" lengthAdjust="spacingAndGlyphs" stroke="#000" stroke-width="0.14">-3.45</text>
<text x="468.3" y="560" font-size="6.93" fill="#000" text-anchor="start" textLength="14.36" lengthAdjust="spacingAndGlyphs" stroke="#000" stroke-width="0.14">-3.15</text>
<text x="419.2" y="569.7" font-size="7.04" fill="#000" text-anchor="start" textLength="14.59" lengthAdjust="spacingAndGlyphs" stroke="#000" stroke-width="0.14">-0.80</text>
<polygon points="439.6,564.3 442.4,563.84 440.06,561.5" fill="#000"/>
<polygon points="439.6,564.3 439.14,567.1 436.8,564.76" fill="#000"/>
<text x="513.2" y="588.4" font-size="6.93" fill="#000" text-anchor="start" textLength="14.36" lengthAdjust="spacingAndGlyphs" stroke="#000" stroke-width="0.14">-3.52</text>
<polygon points="508.5,592.6 511.47,592.12 508.98,589.63" fill="#000"/>
<polygon points="508.5,592.6 508.02,595.57 505.53,593.08" fill="#000"/>
<text x="468" y="616.7" font-size="6.93" fill="#000" text-anchor="start" textLength="14.36" lengthAdjust="spacingAndGlyphs" stroke="#000" stroke-width="0.14">-2.85</text>
<text x="546.5" y="452.3" font-size="6.71" fill="#000" text-anchor="start" transform="rotate(35.3 546.5 452.3)" textLength="64.09" lengthAdjust="spacingAndGlyphs" stroke="#000" stroke-width="0.14">Kanalisation Bestehend</text>
<line x1="463.5" y1="628.1" x2="555" y2="628.1" stroke="#cfcfcf" stroke-width="0.8"/>
<line x1="552.4" y1="630.7" x2="557.6" y2="625.5" stroke="#111" stroke-width="1.2"/>
<text x="468.1" y="626.9" font-size="6.93" fill="#000" text-anchor="start" textLength="7.01" lengthAdjust="spacingAndGlyphs" stroke="#000" stroke-width="0.14">20</text>
<text x="508.1" y="626.9" font-size="6.93" fill="#000" text-anchor="start" textLength="12.26" lengthAdjust="spacingAndGlyphs" stroke="#000" stroke-width="0.14">8.00</text>
<text x="578.1" y="628.1" font-size="6.93" fill="#000" text-anchor="start" textLength="14.36" lengthAdjust="spacingAndGlyphs" stroke="#000" stroke-width="0.14">-4.09</text>
<polygon points="573,633 575.8,632.54 573.46,630.2" fill="#000"/>
<polygon points="573,633 572.54,635.8 570.2,633.46" fill="#000"/>
<polyline points="481.25,644 567.5,636.9 561,734.4 560,644 481.25,644" stroke="#e06a6e" stroke-width="1.0" fill="none"/>
<polyline points="463.5,646.5 557.5,646.5 557.5,720.25 463.5,720.25" stroke="#e06a6e" stroke-width="1.0" fill="none" stroke-dasharray="3 2"/>
<line x1="466" y1="649.75" x2="466" y2="720.25" stroke="#e06a6e" stroke-width="1.2"/>
<polyline points="466,649.75 554.4,649.75 554.4,704.4 531.9,704.4 531.9,649.75" stroke="#d9474c" stroke-width="1.8" fill="none"/>
<circle cx="466" cy="649.75" r="0.9" stroke="#b01c20" stroke-width="0.6" fill="#b01c20"/>
<circle cx="483" cy="649.75" r="0.9" stroke="#b01c20" stroke-width="0.6" fill="#b01c20"/>
<circle cx="499" cy="649.75" r="0.9" stroke="#b01c20" stroke-width="0.6" fill="#b01c20"/>
<circle cx="516" cy="649.75" r="0.9" stroke="#b01c20" stroke-width="0.6" fill="#b01c20"/>
<circle cx="531.9" cy="649.75" r="0.9" stroke="#b01c20" stroke-width="0.6" fill="#b01c20"/>
<circle cx="543" cy="649.75" r="0.9" stroke="#b01c20" stroke-width="0.6" fill="#b01c20"/>
<circle cx="554.4" cy="649.75" r="0.9" stroke="#b01c20" stroke-width="0.6" fill="#b01c20"/>
<circle cx="531.9" cy="667.5" r="0.9" stroke="#b01c20" stroke-width="0.6" fill="#b01c20"/>
<circle cx="531.9" cy="686" r="0.9" stroke="#b01c20" stroke-width="0.6" fill="#b01c20"/>
<circle cx="531.9" cy="704.4" r="0.9" stroke="#b01c20" stroke-width="0.6" fill="#b01c20"/>
<circle cx="543.75" cy="704.4" r="0.9" stroke="#b01c20" stroke-width="0.6" fill="#b01c20"/>
<circle cx="554.4" cy="704.4" r="0.9" stroke="#b01c20" stroke-width="0.6" fill="#b01c20"/>
<circle cx="554.4" cy="667.5" r="0.9" stroke="#b01c20" stroke-width="0.6" fill="#b01c20"/>
<circle cx="466" cy="704.4" r="0.9" stroke="#b01c20" stroke-width="0.6" fill="#b01c20"/>
<path d="M544,704.4 A11.5,11.5 0 0 1 532.5,715.9" stroke="#e06a6e" stroke-width="0.9" fill="none"/>
<line x1="531.9" y1="704.4" x2="531.9" y2="716" stroke="#e06a6e" stroke-width="0.9"/>
<path d="M439.2,739.3 Q458,737 463.8,722.5" stroke="#e06a6e" stroke-width="1.0" fill="none"/>
<path d="M557.5,720.25 Q561,765 588.5,788" stroke="#e06a6e" stroke-width="1.0" fill="none"/>
<text x="541.25" y="675.6" font-size="6.93" fill="#000" text-anchor="start" textLength="14.36" lengthAdjust="spacingAndGlyphs" stroke="#000" stroke-width="0.14">-2.89</text>
<polygon points="536.25,680 539.05,679.54 536.71,677.2" fill="#000"/>
<polygon points="536.25,680 535.79,682.8 533.45,680.46" fill="#000"/>
<text x="494.4" y="707.5" font-size="6.93" fill="#000" text-anchor="start" textLength="14.36" lengthAdjust="spacingAndGlyphs" stroke="#000" stroke-width="0.14">-2.69</text>
<polygon points="489.4,712.5 492.2,712.04 489.86,709.7" fill="#000"/>
<polygon points="489.4,712.5 488.94,715.3 486.6,712.96" fill="#000"/>
<line x1="446" y1="649.7" x2="446" y2="721.25" stroke="#d6d6d6" stroke-width="0.8"/>
<line x1="443.4" y1="647.1" x2="448.6" y2="652.3" stroke="#111" stroke-width="1.2"/>
<line x1="443.4" y1="702.7" x2="448.6" y2="707.9" stroke="#111" stroke-width="1.2"/>
<line x1="443.4" y1="718.65" x2="448.6" y2="723.85" stroke="#111" stroke-width="1.2"/>
<text x="443" y="677.5" font-size="6.93" fill="#000" text-anchor="middle" transform="rotate(-90 443 677.5)" textLength="12.26" lengthAdjust="spacingAndGlyphs" stroke="#000" stroke-width="0.14" dominant-baseline="central">5.00</text>
<text x="443" y="711.7" font-size="6.93" fill="#000" text-anchor="middle" transform="rotate(-90 443 711.7)" textLength="12.26" lengthAdjust="spacingAndGlyphs" stroke="#000" stroke-width="0.14" dominant-baseline="central">1.40</text>
<line x1="588.1" y1="649.75" x2="588.1" y2="788" stroke="#d6d6d6" stroke-width="0.8"/>
<line x1="463.5" y1="787.8" x2="588.1" y2="787.8" stroke="#dcdcdc" stroke-width="0.8"/>
<line x1="585.5" y1="647.15" x2="590.7" y2="652.35" stroke="#111" stroke-width="1.2"/>
<line x1="585.5" y1="701.8" x2="590.7" y2="707" stroke="#111" stroke-width="1.2"/>
<line x1="585.5" y1="785.4" x2="590.7" y2="790.6" stroke="#111" stroke-width="1.2"/>
<text x="585" y="676.9" font-size="6.93" fill="#000" text-anchor="middle" transform="rotate(-90 585 676.9)" textLength="12.26" lengthAdjust="spacingAndGlyphs" stroke="#000" stroke-width="0.14" dominant-baseline="central">5.00</text>
<text x="585" y="747" font-size="6.93" fill="#000" text-anchor="middle" transform="rotate(-90 585 747)" textLength="14.92" lengthAdjust="spacingAndGlyphs" stroke="#000" stroke-width="0.14" dominant-baseline="central">7.51⁸</text>
<text x="414.2" y="727.5" font-size="7.26" fill="#000" text-anchor="start" textLength="72.26" lengthAdjust="spacingAndGlyphs" stroke="#000" stroke-width="0.14">OK Stützmauereck -1.69</text>
<text x="468.1" y="739.4" font-size="6.93" fill="#000" text-anchor="start" textLength="14.36" lengthAdjust="spacingAndGlyphs" stroke="#000" stroke-width="0.14">-2.25</text>
<text x="504" y="751" font-size="6.93" fill="#000" text-anchor="start" textLength="14.36" lengthAdjust="spacingAndGlyphs" stroke="#000" stroke-width="0.14">-2.70</text>
<text x="566.7" y="771" font-size="6.93" fill="#000" text-anchor="start" textLength="14.36" lengthAdjust="spacingAndGlyphs" stroke="#000" stroke-width="0.14">-2.22</text>
<text x="672.5" y="809.5" font-size="6.38" fill="#000" text-anchor="start" textLength="15.67" lengthAdjust="spacingAndGlyphs" stroke="#000" stroke-width="0.14">-2.05⁸</text>
<polygon points="611.4,726.6 662.6,739.8 648.6,791 596.5,776.4" stroke="#f2cf45" stroke-width="0.9" fill="none"/>
<text x="319" y="685.8" font-size="22" fill="#000" text-anchor="start" stroke="#000" stroke-width="0.35">181</text>
<text x="738.3" y="670" font-size="24" fill="#000" text-anchor="middle" transform="rotate(-69 738.3 670)" stroke="#000" stroke-width="0.35" dominant-baseline="central">443</text>
<text x="79.5" y="870.5" font-size="9.48" fill="#111" text-anchor="start" textLength="52.7" lengthAdjust="spacingAndGlyphs" stroke="#111" stroke-width="0.24">Situation 1:200</text>
<line x1="67.5" y1="877" x2="190" y2="877" stroke="#d8d8d8" stroke-width="0.8"/>
<line x1="76.75" y1="858.75" x2="76.75" y2="887.5" stroke="#e0e0e0" stroke-width="0.8"/>
<rect x="1012.5" y="375" width="373" height="295.1" fill="none" stroke="#d2d2d2" stroke-width="0.9" stroke-dasharray="5 3"/>
<line x1="1019.7" y1="384.6" x2="1019.7" y2="661" stroke="#d6d6d6" stroke-width="1.0" stroke-dasharray="4 2.7"/>
<line x1="1022.7" y1="384.6" x2="1022.7" y2="661" stroke="#d6d6d6" stroke-width="1.0" stroke-dasharray="4 2.7" stroke-dashoffset="3.3"/>
<line x1="1057" y1="384.6" x2="1057" y2="661" stroke="#d6d6d6" stroke-width="1.0" stroke-dasharray="4 2.7"/>
<line x1="1060" y1="384.6" x2="1060" y2="661" stroke="#d6d6d6" stroke-width="1.0" stroke-dasharray="4 2.7" stroke-dashoffset="3.3"/>
<line x1="1094.2" y1="384.6" x2="1094.2" y2="661" stroke="#d6d6d6" stroke-width="1.0" stroke-dasharray="4 2.7"/>
<line x1="1097.2" y1="384.6" x2="1097.2" y2="661" stroke="#d6d6d6" stroke-width="1.0" stroke-dasharray="4 2.7" stroke-dashoffset="3.3"/>
<line x1="1131.5" y1="384.6" x2="1131.5" y2="661" stroke="#d6d6d6" stroke-width="1.0" stroke-dasharray="4 2.7"/>
<line x1="1134.5" y1="384.6" x2="1134.5" y2="661" stroke="#d6d6d6" stroke-width="1.0" stroke-dasharray="4 2.7" stroke-dashoffset="3.3"/>
<line x1="1168.8" y1="384.6" x2="1168.8" y2="661" stroke="#d6d6d6" stroke-width="1.0" stroke-dasharray="4 2.7"/>
<line x1="1171.8" y1="384.6" x2="1171.8" y2="661" stroke="#d6d6d6" stroke-width="1.0" stroke-dasharray="4 2.7" stroke-dashoffset="3.3"/>
<line x1="1206.1" y1="384.6" x2="1206.1" y2="661" stroke="#d6d6d6" stroke-width="1.0" stroke-dasharray="4 2.7"/>
<line x1="1209.1" y1="384.6" x2="1209.1" y2="661" stroke="#d6d6d6" stroke-width="1.0" stroke-dasharray="4 2.7" stroke-dashoffset="3.3"/>
<line x1="1243.5" y1="384.6" x2="1243.5" y2="661" stroke="#d6d6d6" stroke-width="1.0" stroke-dasharray="4 2.7"/>
<line x1="1246.5" y1="384.6" x2="1246.5" y2="661" stroke="#d6d6d6" stroke-width="1.0" stroke-dasharray="4 2.7" stroke-dashoffset="3.3"/>
<line x1="1283" y1="384.6" x2="1283" y2="661" stroke="#d6d6d6" stroke-width="1.0" stroke-dasharray="4 2.7"/>
<line x1="1286" y1="384.6" x2="1286" y2="661" stroke="#d6d6d6" stroke-width="1.0" stroke-dasharray="4 2.7" stroke-dashoffset="3.3"/>
<line x1="1313.3" y1="384.6" x2="1313.3" y2="661" stroke="#d6d6d6" stroke-width="1.0" stroke-dasharray="4 2.7"/>
<line x1="1316.3" y1="384.6" x2="1316.3" y2="661" stroke="#d6d6d6" stroke-width="1.0" stroke-dasharray="4 2.7" stroke-dashoffset="3.3"/>
<line x1="1343.5" y1="384.6" x2="1343.5" y2="661" stroke="#d6d6d6" stroke-width="1.0" stroke-dasharray="4 2.7"/>
<line x1="1346.5" y1="384.6" x2="1346.5" y2="661" stroke="#d6d6d6" stroke-width="1.0" stroke-dasharray="4 2.7" stroke-dashoffset="3.3"/>
<line x1="1373" y1="384.6" x2="1373" y2="661" stroke="#d6d6d6" stroke-width="1.0" stroke-dasharray="4 2.7"/>
<line x1="1376" y1="384.6" x2="1376" y2="661" stroke="#d6d6d6" stroke-width="1.0" stroke-dasharray="4 2.7" stroke-dashoffset="3.3"/>
<line x1="1018" y1="383.5" x2="1379" y2="383.5" stroke="#c4c4c4" stroke-width="0.9"/>
<line x1="1018" y1="389.5" x2="1379" y2="389.5" stroke="#c4c4c4" stroke-width="0.9"/>
<line x1="1018" y1="383.5" x2="1018" y2="389.5" stroke="#c4c4c4" stroke-width="0.9"/>
<line x1="1379" y1="383.5" x2="1379" y2="389.5" stroke="#c4c4c4" stroke-width="0.9"/>
<line x1="1018" y1="601.1" x2="1379" y2="601.1" stroke="#c4c4c4" stroke-width="0.9"/>
<line x1="1018" y1="607.1" x2="1379" y2="607.1" stroke="#c4c4c4" stroke-width="0.9" stroke-dasharray="6 2"/>
<line x1="1018" y1="601.1" x2="1018" y2="607.1" stroke="#c4c4c4" stroke-width="0.9"/>
<line x1="1379" y1="601.1" x2="1379" y2="607.1" stroke="#c4c4c4" stroke-width="0.9"/>
<rect x="1282.3" y="386.5" width="94.7" height="218.5" fill="none" stroke="#bdbdbd" stroke-width="0.9"/>
<rect x="1285.8" y="389.5" width="87.7" height="212.3" fill="none" stroke="#d0d0d0" stroke-width="0.8"/>
<circle cx="1022.7" cy="386.8" r="6.3" stroke="#d4d4d4" stroke-width="0.9" fill="none"/>
<rect x="1019.9" y="384" width="5.6" height="5.6" fill="none" stroke="#c0c0c0" stroke-width="0.8"/>
<circle cx="1022.7" cy="604.2" r="6.3" stroke="#d4d4d4" stroke-width="0.9" fill="none"/>
<rect x="1019.9" y="601.4" width="5.6" height="5.6" fill="none" stroke="#c0c0c0" stroke-width="0.8"/>
<circle cx="1153" cy="386.8" r="6.3" stroke="#d4d4d4" stroke-width="0.9" fill="none"/>
<rect x="1150.2" y="384" width="5.6" height="5.6" fill="none" stroke="#c0c0c0" stroke-width="0.8"/>
<circle cx="1153" cy="604.2" r="6.3" stroke="#d4d4d4" stroke-width="0.9" fill="none"/>
<rect x="1150.2" y="601.4" width="5.6" height="5.6" fill="none" stroke="#c0c0c0" stroke-width="0.8"/>
<circle cx="1284.6" cy="386.8" r="6.3" stroke="#d4d4d4" stroke-width="0.9" fill="none"/>
<rect x="1281.8" y="384" width="5.6" height="5.6" fill="none" stroke="#c0c0c0" stroke-width="0.8"/>
<circle cx="1284.6" cy="604.2" r="6.3" stroke="#d4d4d4" stroke-width="0.9" fill="none"/>
<rect x="1281.8" y="601.4" width="5.6" height="5.6" fill="none" stroke="#c0c0c0" stroke-width="0.8"/>
<circle cx="1374.1" cy="386.8" r="6.3" stroke="#d4d4d4" stroke-width="0.9" fill="none"/>
<rect x="1371.3" y="384" width="5.6" height="5.6" fill="none" stroke="#c0c0c0" stroke-width="0.8"/>
<circle cx="1374.1" cy="604.2" r="6.3" stroke="#d4d4d4" stroke-width="0.9" fill="none"/>
<rect x="1371.3" y="601.4" width="5.6" height="5.6" fill="none" stroke="#c0c0c0" stroke-width="0.8"/>
<rect x="1061.5" y="384.5" width="3" height="4" fill="none" stroke="#c8c8c8" stroke-width="0.6"/>
<rect x="1131.5" y="384.5" width="3" height="4" fill="none" stroke="#c8c8c8" stroke-width="0.6"/>
<rect x="1214.5" y="384.5" width="3" height="4" fill="none" stroke="#c8c8c8" stroke-width="0.6"/>
<rect x="1244.5" y="384.5" width="3" height="4" fill="none" stroke="#c8c8c8" stroke-width="0.6"/>
<path d="M1333,607.5 A45,45 0 0 1 1288,652.5" stroke="#c4c4c4" stroke-width="0.9" fill="none"/>
<line x1="1288" y1="607.5" x2="1288" y2="652.5" stroke="#c4c4c4" stroke-width="0.9"/>
<line x1="1282" y1="457" x2="1286" y2="461" stroke="#bbb" stroke-width="0.7"/>
<line x1="1282" y1="461" x2="1286" y2="457" stroke="#bbb" stroke-width="0.7"/>
<line x1="1372" y1="457" x2="1376" y2="461" stroke="#bbb" stroke-width="0.7"/>
<line x1="1372" y1="461" x2="1376" y2="457" stroke="#bbb" stroke-width="0.7"/>
<line x1="1282" y1="529" x2="1286" y2="533" stroke="#bbb" stroke-width="0.7"/>
<line x1="1282" y1="533" x2="1286" y2="529" stroke="#bbb" stroke-width="0.7"/>
<line x1="1372" y1="529" x2="1376" y2="533" stroke="#bbb" stroke-width="0.7"/>
<line x1="1372" y1="533" x2="1376" y2="529" stroke="#bbb" stroke-width="0.7"/>
<text x="1149" y="485.8" font-size="6.93" fill="#000" text-anchor="start" textLength="14.36" lengthAdjust="spacingAndGlyphs" stroke="#000" stroke-width="0.14">-1.00</text>
<polygon points="1143.8,489.6 1146.6,489.14 1144.26,486.8" fill="#000"/>
<polygon points="1143.8,489.6 1143.34,492.4 1141,490.06" fill="#000"/>
<text x="1327" y="485.8" font-size="6.93" fill="#000" text-anchor="start" textLength="14.36" lengthAdjust="spacingAndGlyphs" stroke="#000" stroke-width="0.14">-1.20</text>
<polygon points="1321.8,489.6 1324.6,489.14 1322.26,486.8" fill="#000"/>
<polygon points="1321.8,489.6 1321.34,492.4 1319,490.06" fill="#000"/>
<line x1="1010.9" y1="334.6" x2="1010.9" y2="686.9" stroke="#444" stroke-width="1.3"/>
<circle cx="1010.9" cy="689.4" r="2.4" stroke="#222" stroke-width="1.0" fill="#fff"/>
<line x1="1008" y1="345" x2="1388" y2="345" stroke="#d6d6d6" stroke-width="0.8"/>
<line x1="1008" y1="354.4" x2="1388" y2="354.4" stroke="#d6d6d6" stroke-width="0.8"/>
<line x1="1008" y1="364.4" x2="1388" y2="364.4" stroke="#d6d6d6" stroke-width="0.8"/>
<line x1="1008.4" y1="347.6" x2="1013.6" y2="342.4" stroke="#111" stroke-width="1.2"/>
<line x1="1018.4" y1="347.6" x2="1023.6" y2="342.4" stroke="#111" stroke-width="1.2"/>
<line x1="1374.6" y1="347.6" x2="1379.8" y2="342.4" stroke="#111" stroke-width="1.2"/>
<line x1="1383" y1="347.6" x2="1388.2" y2="342.4" stroke="#111" stroke-width="1.2"/>
<text x="1022" y="343.6" font-size="6.93" fill="#000" text-anchor="start" textLength="7.01" lengthAdjust="spacingAndGlyphs" stroke="#000" stroke-width="0.14">20</text>
<text x="1202" y="343.6" font-size="6.93" fill="#000" text-anchor="middle" textLength="12.26" lengthAdjust="spacingAndGlyphs" stroke="#000" stroke-width="0.14">8.00</text>
<text x="1388.6" y="343.6" font-size="6.93" fill="#000" text-anchor="start" textLength="7.01" lengthAdjust="spacingAndGlyphs" stroke="#000" stroke-width="0.14">20</text>
<line x1="1008.4" y1="357" x2="1013.6" y2="351.8" stroke="#111" stroke-width="1.2"/>
<line x1="1018.4" y1="357" x2="1023.6" y2="351.8" stroke="#111" stroke-width="1.2"/>
<line x1="1024.9" y1="357" x2="1030.1" y2="351.8" stroke="#111" stroke-width="1.2"/>
<line x1="1279.1" y1="357" x2="1284.3" y2="351.8" stroke="#111" stroke-width="1.2"/>
<line x1="1285.2" y1="357" x2="1290.4" y2="351.8" stroke="#111" stroke-width="1.2"/>
<line x1="1369.2" y1="357" x2="1374.4" y2="351.8" stroke="#111" stroke-width="1.2"/>
<line x1="1374.6" y1="357" x2="1379.8" y2="351.8" stroke="#111" stroke-width="1.2"/>
<line x1="1383" y1="357" x2="1388.2" y2="351.8" stroke="#111" stroke-width="1.2"/>
<text x="1005" y="353.2" font-size="6.93" fill="#000" text-anchor="middle" textLength="7.01" lengthAdjust="spacingAndGlyphs" stroke="#000" stroke-width="0.14">20</text>
<text x="1028.5" y="353.2" font-size="6.93" fill="#000" text-anchor="start" textLength="7.01" lengthAdjust="spacingAndGlyphs" stroke="#000" stroke-width="0.14">12</text>
<text x="1156" y="353.2" font-size="6.93" fill="#000" text-anchor="middle" textLength="12.26" lengthAdjust="spacingAndGlyphs" stroke="#000" stroke-width="0.14">5.76</text>
<text x="1289.5" y="353.2" font-size="6.93" fill="#000" text-anchor="start" textLength="7.01" lengthAdjust="spacingAndGlyphs" stroke="#000" stroke-width="0.14">12</text>
<text x="1330" y="353.2" font-size="6.93" fill="#000" text-anchor="middle" textLength="12.26" lengthAdjust="spacingAndGlyphs" stroke="#000" stroke-width="0.14">1.88</text>
<text x="1365.8" y="353.2" font-size="6.93" fill="#000" text-anchor="middle" textLength="7.01" lengthAdjust="spacingAndGlyphs" stroke="#000" stroke-width="0.14">12</text>
<text x="1388.6" y="353.2" font-size="6.93" fill="#000" text-anchor="start" textLength="7.01" lengthAdjust="spacingAndGlyphs" stroke="#000" stroke-width="0.14">20</text>
<line x1="1008.4" y1="367" x2="1013.6" y2="361.8" stroke="#111" stroke-width="1.2"/>
<line x1="1017.3" y1="367" x2="1022.5" y2="361.8" stroke="#111" stroke-width="1.2"/>
<line x1="1019.9" y1="367" x2="1025.1" y2="361.8" stroke="#111" stroke-width="1.2"/>
<line x1="1054.6" y1="367" x2="1059.8" y2="361.8" stroke="#111" stroke-width="1.2"/>
<line x1="1057.2" y1="367" x2="1062.4" y2="361.8" stroke="#111" stroke-width="1.2"/>
<line x1="1091.8" y1="367" x2="1097" y2="361.8" stroke="#111" stroke-width="1.2"/>
<line x1="1094.4" y1="367" x2="1099.6" y2="361.8" stroke="#111" stroke-width="1.2"/>
<line x1="1129.1" y1="367" x2="1134.3" y2="361.8" stroke="#111" stroke-width="1.2"/>
<line x1="1131.7" y1="367" x2="1136.9" y2="361.8" stroke="#111" stroke-width="1.2"/>
<line x1="1166.4" y1="367" x2="1171.6" y2="361.8" stroke="#111" stroke-width="1.2"/>
<line x1="1169" y1="367" x2="1174.2" y2="361.8" stroke="#111" stroke-width="1.2"/>
<line x1="1203.7" y1="367" x2="1208.9" y2="361.8" stroke="#111" stroke-width="1.2"/>
<line x1="1206.3" y1="367" x2="1211.5" y2="361.8" stroke="#111" stroke-width="1.2"/>
<line x1="1241.1" y1="367" x2="1246.3" y2="361.8" stroke="#111" stroke-width="1.2"/>
<line x1="1243.7" y1="367" x2="1248.9" y2="361.8" stroke="#111" stroke-width="1.2"/>
<line x1="1280.6" y1="367" x2="1285.8" y2="361.8" stroke="#111" stroke-width="1.2"/>
<line x1="1283.2" y1="367" x2="1288.4" y2="361.8" stroke="#111" stroke-width="1.2"/>
<line x1="1310.9" y1="367" x2="1316.1" y2="361.8" stroke="#111" stroke-width="1.2"/>
<line x1="1313.5" y1="367" x2="1318.7" y2="361.8" stroke="#111" stroke-width="1.2"/>
<line x1="1341.1" y1="367" x2="1346.3" y2="361.8" stroke="#111" stroke-width="1.2"/>
<line x1="1343.7" y1="367" x2="1348.9" y2="361.8" stroke="#111" stroke-width="1.2"/>
<line x1="1370.6" y1="367" x2="1375.8" y2="361.8" stroke="#111" stroke-width="1.2"/>
<line x1="1373.2" y1="367" x2="1378.4" y2="361.8" stroke="#111" stroke-width="1.2"/>
<line x1="1383" y1="367" x2="1388.2" y2="361.8" stroke="#111" stroke-width="1.2"/>
<text x="1005" y="363.2" font-size="6.93" fill="#000" text-anchor="middle" textLength="7.01" lengthAdjust="spacingAndGlyphs" stroke="#000" stroke-width="0.14">20</text>
<text x="1027" y="363.2" font-size="6.93" fill="#000" text-anchor="middle" textLength="3.5" lengthAdjust="spacingAndGlyphs" stroke="#000" stroke-width="0.14">6</text>
<text x="1041.7" y="363.2" font-size="6.93" fill="#000" text-anchor="middle" textLength="9.66" lengthAdjust="spacingAndGlyphs" stroke="#000" stroke-width="0.14">77⁸</text>
<text x="1064" y="363.2" font-size="6.93" fill="#000" text-anchor="middle" textLength="3.5" lengthAdjust="spacingAndGlyphs" stroke="#000" stroke-width="0.14">6</text>
<text x="1079" y="363.2" font-size="6.93" fill="#000" text-anchor="middle" textLength="7.01" lengthAdjust="spacingAndGlyphs" stroke="#000" stroke-width="0.14">78</text>
<text x="1101" y="363.2" font-size="6.93" fill="#000" text-anchor="middle" textLength="3.5" lengthAdjust="spacingAndGlyphs" stroke="#000" stroke-width="0.14">6</text>
<text x="1116.7" y="363.2" font-size="6.93" fill="#000" text-anchor="middle" textLength="7.01" lengthAdjust="spacingAndGlyphs" stroke="#000" stroke-width="0.14">78</text>
<text x="1139" y="363.2" font-size="6.93" fill="#000" text-anchor="middle" textLength="3.5" lengthAdjust="spacingAndGlyphs" stroke="#000" stroke-width="0.14">6</text>
<text x="1154" y="363.2" font-size="6.93" fill="#000" text-anchor="middle" textLength="7.01" lengthAdjust="spacingAndGlyphs" stroke="#000" stroke-width="0.14">78</text>
<text x="1176" y="363.2" font-size="6.93" fill="#000" text-anchor="middle" textLength="3.5" lengthAdjust="spacingAndGlyphs" stroke="#000" stroke-width="0.14">6</text>
<text x="1191.7" y="363.2" font-size="6.93" fill="#000" text-anchor="middle" textLength="7.01" lengthAdjust="spacingAndGlyphs" stroke="#000" stroke-width="0.14">78</text>
<text x="1214" y="363.2" font-size="6.93" fill="#000" text-anchor="middle" textLength="3.5" lengthAdjust="spacingAndGlyphs" stroke="#000" stroke-width="0.14">6</text>
<text x="1229" y="363.2" font-size="6.93" fill="#000" text-anchor="middle" textLength="7.01" lengthAdjust="spacingAndGlyphs" stroke="#000" stroke-width="0.14">78</text>
<text x="1251" y="363.2" font-size="6.93" fill="#000" text-anchor="middle" textLength="3.5" lengthAdjust="spacingAndGlyphs" stroke="#000" stroke-width="0.14">6</text>
<text x="1264.6" y="363.2" font-size="6.93" fill="#000" text-anchor="middle" textLength="7.01" lengthAdjust="spacingAndGlyphs" stroke="#000" stroke-width="0.14">78</text>
<text x="1278" y="363.2" font-size="6.93" fill="#000" text-anchor="middle" textLength="3.5" lengthAdjust="spacingAndGlyphs" stroke="#000" stroke-width="0.14">6</text>
<text x="1296.7" y="363.2" font-size="6.93" fill="#000" text-anchor="middle" textLength="9.66" lengthAdjust="spacingAndGlyphs" stroke="#000" stroke-width="0.14">62⁸</text>
<text x="1309" y="363.2" font-size="6.93" fill="#000" text-anchor="middle" textLength="3.5" lengthAdjust="spacingAndGlyphs" stroke="#000" stroke-width="0.14">6</text>
<text x="1327" y="363.2" font-size="6.93" fill="#000" text-anchor="middle" textLength="9.66" lengthAdjust="spacingAndGlyphs" stroke="#000" stroke-width="0.14">62⁸</text>
<text x="1339.6" y="363.2" font-size="6.93" fill="#000" text-anchor="middle" textLength="3.5" lengthAdjust="spacingAndGlyphs" stroke="#000" stroke-width="0.14">6</text>
<text x="1357.5" y="363.2" font-size="6.93" fill="#000" text-anchor="middle" textLength="9.66" lengthAdjust="spacingAndGlyphs" stroke="#000" stroke-width="0.14">62⁸</text>
<text x="1369.6" y="363.2" font-size="6.93" fill="#000" text-anchor="middle" textLength="3.5" lengthAdjust="spacingAndGlyphs" stroke="#000" stroke-width="0.14">6</text>
<text x="1388.6" y="363.2" font-size="6.93" fill="#000" text-anchor="start" textLength="7.01" lengthAdjust="spacingAndGlyphs" stroke="#000" stroke-width="0.14">20</text>
<line x1="977.8" y1="372" x2="977.8" y2="672" stroke="#d8d8d8" stroke-width="0.8"/>
<line x1="987.4" y1="372" x2="987.4" y2="672" stroke="#d8d8d8" stroke-width="0.8"/>
<line x1="997.2" y1="372" x2="997.2" y2="672" stroke="#d8d8d8" stroke-width="0.8"/>
<line x1="975.2" y1="372.4" x2="980.4" y2="377.6" stroke="#111" stroke-width="1.2"/>
<line x1="975.2" y1="381.7" x2="980.4" y2="386.9" stroke="#111" stroke-width="1.2"/>
<line x1="975.2" y1="604.4" x2="980.4" y2="609.6" stroke="#111" stroke-width="1.2"/>
<line x1="975.2" y1="667.1" x2="980.4" y2="672.3" stroke="#111" stroke-width="1.2"/>
<line x1="984.8" y1="372.4" x2="990" y2="377.6" stroke="#111" stroke-width="1.2"/>
<line x1="984.8" y1="380.9" x2="990" y2="386.1" stroke="#111" stroke-width="1.2"/>
<line x1="984.8" y1="386.9" x2="990" y2="392.1" stroke="#111" stroke-width="1.2"/>
<line x1="984.8" y1="598.5" x2="990" y2="603.7" stroke="#111" stroke-width="1.2"/>
<line x1="984.8" y1="604.4" x2="990" y2="609.6" stroke="#111" stroke-width="1.2"/>
<line x1="984.8" y1="658.4" x2="990" y2="663.6" stroke="#111" stroke-width="1.2"/>
<line x1="984.8" y1="667.1" x2="990" y2="672.3" stroke="#111" stroke-width="1.2"/>
<line x1="994.6" y1="372.4" x2="999.8" y2="377.6" stroke="#111" stroke-width="1.2"/>
<line x1="994.6" y1="380.9" x2="999.8" y2="386.1" stroke="#111" stroke-width="1.2"/>
<line x1="994.6" y1="386.9" x2="999.8" y2="392.1" stroke="#111" stroke-width="1.2"/>
<line x1="994.6" y1="598.5" x2="999.8" y2="603.7" stroke="#111" stroke-width="1.2"/>
<line x1="994.6" y1="604.4" x2="999.8" y2="609.6" stroke="#111" stroke-width="1.2"/>
<line x1="994.6" y1="658.4" x2="999.8" y2="663.6" stroke="#111" stroke-width="1.2"/>
<line x1="994.6" y1="667.1" x2="999.8" y2="672.3" stroke="#111" stroke-width="1.2"/>
<text x="974.8" y="389.7" font-size="6.93" fill="#000" text-anchor="middle" transform="rotate(-90 974.8 389.7)" textLength="7.01" lengthAdjust="spacingAndGlyphs" stroke="#000" stroke-width="0.14" dominant-baseline="central">20</text>
<text x="984.5" y="370" font-size="6.93" fill="#000" text-anchor="middle" transform="rotate(-90 984.5 370)" textLength="7.01" lengthAdjust="spacingAndGlyphs" stroke="#000" stroke-width="0.14" dominant-baseline="central">20</text>
<text x="994.3" y="370" font-size="6.93" fill="#000" text-anchor="middle" transform="rotate(-90 994.3 370)" textLength="7.01" lengthAdjust="spacingAndGlyphs" stroke="#000" stroke-width="0.14" dominant-baseline="central">20</text>
<text x="984.5" y="394" font-size="6.93" fill="#000" text-anchor="middle" transform="rotate(-90 984.5 394)" textLength="7.01" lengthAdjust="spacingAndGlyphs" stroke="#000" stroke-width="0.14" dominant-baseline="central">12</text>
<text x="994.3" y="394" font-size="6.93" fill="#000" text-anchor="middle" transform="rotate(-90 994.3 394)" textLength="7.01" lengthAdjust="spacingAndGlyphs" stroke="#000" stroke-width="0.14" dominant-baseline="central">12</text>
<text x="974.8" y="499" font-size="6.93" fill="#000" text-anchor="middle" transform="rotate(-90 974.8 499)" textLength="12.26" lengthAdjust="spacingAndGlyphs" stroke="#000" stroke-width="0.14" dominant-baseline="central">5.00</text>
<text x="984.5" y="499" font-size="6.93" fill="#000" text-anchor="middle" transform="rotate(-90 984.5 499)" textLength="12.26" lengthAdjust="spacingAndGlyphs" stroke="#000" stroke-width="0.14" dominant-baseline="central">4.74</text>
<text x="994.3" y="499" font-size="6.93" fill="#000" text-anchor="middle" transform="rotate(-90 994.3 499)" textLength="12.26" lengthAdjust="spacingAndGlyphs" stroke="#000" stroke-width="0.14" dominant-baseline="central">4.76</text>
<text x="984.5" y="612" font-size="6.93" fill="#000" text-anchor="middle" transform="rotate(-90 984.5 612)" textLength="7.01" lengthAdjust="spacingAndGlyphs" stroke="#000" stroke-width="0.14" dominant-baseline="central">14</text>
<text x="994.3" y="612" font-size="6.93" fill="#000" text-anchor="middle" transform="rotate(-90 994.3 612)" textLength="7.01" lengthAdjust="spacingAndGlyphs" stroke="#000" stroke-width="0.14" dominant-baseline="central">12</text>
<text x="974.8" y="639" font-size="6.93" fill="#000" text-anchor="middle" transform="rotate(-90 974.8 639)" textLength="12.26" lengthAdjust="spacingAndGlyphs" stroke="#000" stroke-width="0.14" dominant-baseline="central">1.40</text>
<text x="984.5" y="639" font-size="6.93" fill="#000" text-anchor="middle" transform="rotate(-90 984.5 639)" textLength="12.26" lengthAdjust="spacingAndGlyphs" stroke="#000" stroke-width="0.14" dominant-baseline="central">1.20</text>
<text x="994.3" y="639" font-size="6.93" fill="#000" text-anchor="middle" transform="rotate(-90 994.3 639)" textLength="12.26" lengthAdjust="spacingAndGlyphs" stroke="#000" stroke-width="0.14" dominant-baseline="central">1.20</text>
<text x="984.5" y="675.5" font-size="6.93" fill="#000" text-anchor="middle" transform="rotate(-90 984.5 675.5)" textLength="7.01" lengthAdjust="spacingAndGlyphs" stroke="#000" stroke-width="0.14" dominant-baseline="central">20</text>
<text x="994.3" y="675.5" font-size="6.93" fill="#000" text-anchor="middle" transform="rotate(-90 994.3 675.5)" textLength="7.01" lengthAdjust="spacingAndGlyphs" stroke="#000" stroke-width="0.14" dominant-baseline="central">20</text>
<text x="981.1" y="706.6" font-size="9.48" fill="#111" text-anchor="start" textLength="51.81" lengthAdjust="spacingAndGlyphs" stroke="#111" stroke-width="0.24">Grundriss 1:50</text>
<line x1="968" y1="713" x2="1091.7" y2="713" stroke="#d8d8d8" stroke-width="0.8"/>
<line x1="977.5" y1="695" x2="977.5" y2="722" stroke="#e0e0e0" stroke-width="0.8"/>
<text x="976" y="765.3" font-size="9.3" fill="#222" text-anchor="start" textLength="37.9" lengthAdjust="spacingAndGlyphs" stroke="#222" stroke-width="0.24">Materialien</text>
<text x="976" y="787.3" font-size="9.3" fill="#222" text-anchor="start" textLength="18.09" lengthAdjust="spacingAndGlyphs" stroke="#222" stroke-width="0.24">Dach</text>
<text x="976" y="797.9" font-size="9.3" fill="#222" text-anchor="start" textLength="29.72" lengthAdjust="spacingAndGlyphs" stroke="#222" stroke-width="0.24">Fassade</text>
<text x="976" y="808.4" font-size="9.3" fill="#222" text-anchor="start" textLength="22.41" lengthAdjust="spacingAndGlyphs" stroke="#222" stroke-width="0.24">Boden</text>
<text x="1033" y="787.3" font-size="9.3" fill="#222" text-anchor="start" textLength="171.01" lengthAdjust="spacingAndGlyphs" stroke="#222" stroke-width="0.24">: Flachdach extensiv begrünt / Bleche Chromstahl</text>
<text x="1033" y="797.9" font-size="9.3" fill="#222" text-anchor="start" textLength="131.82" lengthAdjust="spacingAndGlyphs" stroke="#222" stroke-width="0.24">: Holzschalung sägeroh naturbelassen</text>
<text x="1033" y="808.4" font-size="9.3" fill="#222" text-anchor="start" textLength="133.54" lengthAdjust="spacingAndGlyphs" stroke="#222" stroke-width="0.24">: Naturbelag Kies / Schopf: Pflästerung</text>
</svg>
</body></html>
